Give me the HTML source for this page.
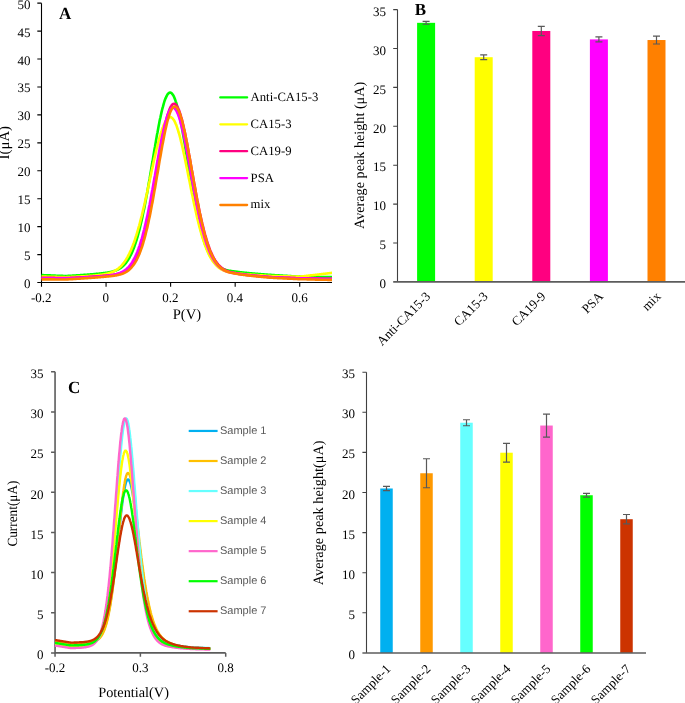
<!DOCTYPE html>
<html><head><meta charset="utf-8"><style>
html,body{margin:0;padding:0;background:#fff;}
body{width:685px;height:703px;overflow:hidden;}
svg{display:block;text-rendering:geometricPrecision;will-change:transform;}
text{font-family:'Liberation Serif', serif;fill:#000;}
</style></head><body>
<svg width="685" height="703" viewBox="0 0 685 703">
<rect width="685" height="703" fill="#fff"/>
<path d="M41.50 3.15V282.55H332.00" fill="none" stroke="#000" stroke-width="1.1"/>
<path d="M37.30 282.55H41.50M37.30 254.61H41.50M37.30 226.67H41.50M37.30 198.73H41.50M37.30 170.79H41.50M37.30 142.85H41.50M37.30 114.91H41.50M37.30 86.97H41.50M37.30 59.03H41.50M37.30 31.09H41.50M37.30 3.15H41.50M41.50 282.55V286.75M106.06 282.55V286.75M170.61 282.55V286.75M235.17 282.55V286.75M299.72 282.55V286.75" stroke="#000" stroke-width="1.1"/>
<polyline fill="none" stroke="#00ff00" stroke-width="2.6" stroke-linejoin="round" points="41.5,275.1 41.9,275.1 42.3,275.1 42.7,275.1 43.2,275.1 43.6,275.2 44.0,275.2 44.4,275.2 44.8,275.2 45.2,275.2 45.7,275.2 46.1,275.3 46.5,275.3 46.9,275.3 47.3,275.3 47.7,275.3 48.1,275.3 48.6,275.4 49.0,275.4 49.4,275.4 49.8,275.4 50.2,275.4 50.6,275.4 51.1,275.5 51.5,275.5 51.9,275.5 52.3,275.5 52.7,275.5 53.1,275.6 53.6,275.6 54.0,275.6 54.4,275.6 54.8,275.6 55.2,275.6 55.6,275.7 56.0,275.7 56.5,275.7 56.9,275.7 57.3,275.7 57.7,275.7 58.1,275.7 58.5,275.8 59.0,275.8 59.4,275.8 59.8,275.8 60.2,275.8 60.6,275.8 61.0,275.9 61.4,275.9 61.9,275.9 62.3,275.9 62.7,275.9 63.1,275.9 63.5,276.0 63.9,276.0 64.4,276.0 64.8,276.0 65.2,276.0 65.6,276.0 66.0,276.0 66.4,276.0 66.9,276.0 67.3,276.0 67.7,275.9 68.1,275.9 68.5,275.9 68.9,275.9 69.3,275.8 69.8,275.8 70.2,275.8 70.6,275.8 71.0,275.7 71.4,275.7 71.8,275.7 72.3,275.7 72.7,275.6 73.1,275.6 73.5,275.6 73.9,275.6 74.3,275.5 74.7,275.5 75.2,275.5 75.6,275.5 76.0,275.4 76.4,275.4 76.8,275.4 77.2,275.3 77.7,275.3 78.1,275.3 78.5,275.3 78.9,275.2 79.3,275.2 79.7,275.2 80.2,275.2 80.6,275.1 81.0,275.1 81.4,275.1 81.8,275.0 82.2,275.0 82.6,275.0 83.1,275.0 83.5,274.9 83.9,274.9 84.3,274.9 84.7,274.8 85.1,274.8 85.6,274.8 86.0,274.8 86.4,274.7 86.8,274.7 87.2,274.7 87.6,274.6 88.0,274.6 88.5,274.6 88.9,274.5 89.3,274.5 89.7,274.5 90.1,274.4 90.5,274.4 91.0,274.4 91.4,274.3 91.8,274.3 92.2,274.3 92.6,274.2 93.0,274.2 93.4,274.2 93.9,274.1 94.3,274.1 94.7,274.1 95.1,274.0 95.5,274.0 95.9,273.9 96.4,273.9 96.8,273.9 97.2,273.8 97.6,273.8 98.0,273.7 98.4,273.7 98.9,273.7 99.3,273.6 99.7,273.6 100.1,273.5 100.5,273.5 100.9,273.4 101.3,273.4 101.8,273.3 102.2,273.3 102.6,273.2 103.0,273.2 103.4,273.1 103.8,273.1 104.3,273.0 104.7,273.0 105.1,272.9 105.5,272.8 105.9,272.8 106.3,272.7 106.7,272.7 107.2,272.6 107.6,272.5 108.0,272.5 108.4,272.4 108.8,272.3 109.2,272.3 109.7,272.2 110.1,272.1 110.5,272.0 110.9,271.9 111.3,271.8 111.7,271.7 112.2,271.6 112.6,271.5 113.0,271.4 113.4,271.3 113.8,271.2 114.2,271.0 114.6,270.9 115.1,270.8 115.5,270.6 115.9,270.5 116.3,270.3 116.7,270.1 117.1,269.9 117.6,269.7 118.0,269.5 118.4,269.3 118.8,269.1 119.2,268.8 119.6,268.6 120.0,268.3 120.5,268.0 120.9,267.8 121.3,267.5 121.7,267.1 122.1,266.8 122.5,266.4 123.0,266.1 123.4,265.7 123.8,265.3 124.2,264.9 124.6,264.4 125.0,264.0 125.4,263.5 125.9,263.0 126.3,262.4 126.7,261.9 127.1,261.3 127.5,260.7 127.9,260.1 128.4,259.4 128.8,258.7 129.2,258.0 129.6,257.3 130.0,256.5 130.4,255.7 130.9,254.9 131.3,254.0 131.7,253.1 132.1,252.2 132.5,251.2 132.9,250.2 133.3,249.2 133.8,248.1 134.2,247.0 134.6,245.9 135.0,244.7 135.4,243.5 135.8,242.2 136.3,240.9 136.7,239.6 137.1,238.2 137.5,236.8 137.9,235.3 138.3,233.8 138.7,232.3 139.2,230.7 139.6,229.1 140.0,227.4 140.4,225.7 140.8,224.0 141.2,222.2 141.7,220.3 142.1,218.5 142.5,216.6 142.9,214.6 143.3,212.6 143.7,210.6 144.2,208.6 144.6,206.5 145.0,204.3 145.4,202.2 145.8,200.0 146.2,197.7 146.6,195.5 147.1,193.2 147.5,190.9 147.9,188.5 148.3,186.1 148.7,183.8 149.1,181.4 149.6,178.9 150.0,176.5 150.4,174.0 150.8,171.6 151.2,169.1 151.6,166.6 152.0,164.1 152.5,161.6 152.9,159.1 153.3,156.6 153.7,154.1 154.1,151.7 154.5,149.2 155.0,146.7 155.4,144.3 155.8,141.9 156.2,139.5 156.6,137.1 157.0,134.8 157.5,132.5 157.9,130.2 158.3,128.0 158.7,125.8 159.1,123.7 159.5,121.6 159.9,119.5 160.4,117.5 160.8,115.6 161.2,113.7 161.6,111.9 162.0,110.2 162.4,108.5 162.9,106.9 163.3,105.4 163.7,103.9 164.1,102.5 164.5,101.2 164.9,100.0 165.3,98.9 165.8,97.9 166.2,96.9 166.6,96.1 167.0,95.3 167.4,94.6 167.8,94.0 168.3,93.5 168.7,93.2 169.1,92.9 169.5,92.7 169.9,92.6 170.3,92.6 170.7,92.7 171.2,92.9 171.6,93.2 172.0,93.6 172.4,94.1 172.8,94.7 173.2,95.3 173.7,96.1 174.1,97.0 174.5,98.0 174.9,99.0 175.3,100.2 175.7,101.4 176.2,102.7 176.6,104.1 177.0,105.6 177.4,107.1 177.8,108.7 178.2,110.4 178.6,112.2 179.1,114.0 179.5,115.9 179.9,117.8 180.3,119.9 180.7,121.9 181.1,124.0 181.6,126.2 182.0,128.4 182.4,130.6 182.8,132.9 183.2,135.2 183.6,137.6 184.0,139.9 184.5,142.4 184.9,144.8 185.3,147.2 185.7,149.7 186.1,152.2 186.5,154.6 187.0,157.1 187.4,159.6 187.8,162.1 188.2,164.6 188.6,167.1 189.0,169.6 189.5,172.1 189.9,174.6 190.3,177.0 190.7,179.5 191.1,181.9 191.5,184.3 191.9,186.7 192.4,189.0 192.8,191.4 193.2,193.7 193.6,196.0 194.0,198.2 194.4,200.4 194.9,202.6 195.3,204.8 195.7,206.9 196.1,209.0 196.5,211.0 196.9,213.0 197.3,215.0 197.8,216.9 198.2,218.8 198.6,220.7 199.0,222.5 199.4,224.2 199.8,226.0 200.3,227.7 200.7,229.3 201.1,230.9 201.5,232.5 201.9,234.0 202.3,235.5 202.8,236.9 203.2,238.3 203.6,239.6 204.0,241.0 204.4,242.2 204.8,243.5 205.2,244.7 205.7,245.8 206.1,246.9 206.5,248.0 206.9,249.1 207.3,250.1 207.7,251.0 208.2,252.0 208.6,252.9 209.0,253.8 209.4,254.6 209.8,255.4 210.2,256.2 210.6,256.9 211.1,257.6 211.5,258.3 211.9,259.0 212.3,259.6 212.7,260.2 213.1,260.8 213.6,261.3 214.0,261.9 214.4,262.4 214.8,262.9 215.2,263.3 215.6,263.8 216.0,264.2 216.5,264.6 216.9,265.0 217.3,265.3 217.7,265.7 218.1,266.0 218.5,266.3 219.0,266.6 219.4,266.9 219.8,267.2 220.2,267.5 220.6,267.7 221.0,267.9 221.5,268.2 221.9,268.4 222.3,268.6 222.7,268.8 223.1,268.9 223.5,269.1 223.9,269.3 224.4,269.4 224.8,269.6 225.2,269.7 225.6,269.8 226.0,270.0 226.4,270.1 226.9,270.2 227.3,270.3 227.7,270.4 228.1,270.5 228.5,270.6 228.9,270.7 229.3,270.7 229.8,270.8 230.2,270.9 230.6,270.9 231.0,271.0 231.4,271.1 231.8,271.1 232.3,271.2 232.7,271.2 233.1,271.3 233.5,271.3 233.9,271.4 234.3,271.4 234.8,271.5 235.2,271.5 235.6,271.6 236.0,271.6 236.4,271.7 236.8,271.8 237.2,271.8 237.7,271.9 238.1,271.9 238.5,272.0 238.9,272.0 239.3,272.1 239.7,272.2 240.2,272.2 240.6,272.3 241.0,272.3 241.4,272.4 241.8,272.4 242.2,272.4 242.6,272.5 243.1,272.5 243.5,272.6 243.9,272.6 244.3,272.7 244.7,272.7 245.1,272.8 245.6,272.8 246.0,272.8 246.4,272.9 246.8,272.9 247.2,273.0 247.6,273.0 248.1,273.0 248.5,273.1 248.9,273.1 249.3,273.2 249.7,273.2 250.1,273.2 250.5,273.3 251.0,273.3 251.4,273.4 251.8,273.4 252.2,273.4 252.6,273.5 253.0,273.5 253.5,273.5 253.9,273.6 254.3,273.6 254.7,273.6 255.1,273.7 255.5,273.7 255.9,273.8 256.4,273.8 256.8,273.8 257.2,273.9 257.6,273.9 258.0,273.9 258.4,274.0 258.9,274.0 259.3,274.0 259.7,274.1 260.1,274.1 260.5,274.1 260.9,274.2 261.3,274.2 261.8,274.2 262.2,274.3 262.6,274.3 263.0,274.3 263.4,274.4 263.8,274.4 264.3,274.4 264.7,274.5 265.1,274.5 265.5,274.5 265.9,274.6 266.3,274.6 266.8,274.6 267.2,274.6 267.6,274.7 268.0,274.7 268.4,274.7 268.8,274.8 269.2,274.8 269.7,274.8 270.1,274.9 270.5,274.9 270.9,274.9 271.3,274.9 271.7,275.0 272.2,275.0 272.6,275.0 273.0,275.1 273.4,275.1 273.8,275.1 274.2,275.1 274.6,275.2 275.1,275.2 275.5,275.2 275.9,275.2 276.3,275.3 276.7,275.3 277.1,275.3 277.6,275.3 278.0,275.4 278.4,275.4 278.8,275.4 279.2,275.4 279.6,275.5 280.1,275.5 280.5,275.5 280.9,275.5 281.3,275.6 281.7,275.6 282.1,275.6 282.5,275.6 283.0,275.7 283.4,275.7 283.8,275.7 284.2,275.7 284.6,275.8 285.0,275.8 285.5,275.8 285.9,275.8 286.3,275.9 286.7,275.9 287.1,275.9 287.5,275.9 287.9,276.0 288.4,276.0 288.8,276.0 289.2,276.0 289.6,276.1 290.0,276.1 290.4,276.1 290.9,276.1 291.3,276.2 291.7,276.2 292.1,276.2 292.5,276.2 292.9,276.2 293.3,276.3 293.8,276.3 294.2,276.3 294.6,276.3 295.0,276.4 295.4,276.4 295.8,276.4 296.3,276.4 296.7,276.5 297.1,276.5 297.5,276.5 297.9,276.5 298.3,276.6 298.8,276.6 299.2,276.6 299.6,276.6 300.0,276.6 300.4,276.7 300.8,276.7 301.2,276.7 301.7,276.7 302.1,276.7 302.5,276.7 302.9,276.7 303.3,276.7 303.7,276.7 304.2,276.7 304.6,276.7 305.0,276.7 305.4,276.7 305.8,276.7 306.2,276.8 306.6,276.8 307.1,276.8 307.5,276.8 307.9,276.8 308.3,276.8 308.7,276.8 309.1,276.8 309.6,276.8 310.0,276.8 310.4,276.8 310.8,276.8 311.2,276.8 311.6,276.8 312.1,276.8 312.5,276.9 312.9,276.9 313.3,276.9 313.7,276.9 314.1,276.9 314.5,276.9 315.0,276.9 315.4,276.9 315.8,276.9 316.2,276.9 316.6,276.9 317.0,276.9 317.5,276.9 317.9,276.9 318.3,276.9 318.7,276.9 319.1,277.0 319.5,277.0 319.9,277.0 320.4,277.0 320.8,277.0 321.2,277.0 321.6,277.0 322.0,277.0 322.4,277.0 322.9,277.0 323.3,277.0 323.7,277.0 324.1,277.0 324.5,277.0 324.9,277.0 325.4,277.0 325.8,277.0 326.2,277.1 326.6,277.1 327.0,277.1 327.4,277.1 327.8,277.1 328.3,277.1 328.7,277.1 329.1,277.1 329.5,277.1 329.9,277.1 330.3,277.1 330.8,277.1 331.2,277.1 331.6,277.1 332.0,277.1"/>
<polyline fill="none" stroke="#ffff00" stroke-width="2.6" stroke-linejoin="round" points="41.5,276.5 41.9,276.5 42.3,276.5 42.7,276.6 43.2,276.6 43.6,276.6 44.0,276.6 44.4,276.6 44.8,276.6 45.2,276.6 45.7,276.6 46.1,276.6 46.5,276.7 46.9,276.7 47.3,276.7 47.7,276.7 48.1,276.7 48.6,276.7 49.0,276.7 49.4,276.7 49.8,276.8 50.2,276.8 50.6,276.8 51.1,276.8 51.5,276.8 51.9,276.8 52.3,276.8 52.7,276.8 53.1,276.8 53.6,276.9 54.0,276.9 54.4,276.9 54.8,276.9 55.2,276.9 55.6,276.9 56.0,276.9 56.5,276.9 56.9,276.9 57.3,277.0 57.7,277.0 58.1,277.0 58.5,277.0 59.0,277.0 59.4,277.0 59.8,277.0 60.2,277.0 60.6,277.0 61.0,277.1 61.4,277.1 61.9,277.1 62.3,277.1 62.7,277.1 63.1,277.1 63.5,277.1 63.9,277.1 64.4,277.1 64.8,277.2 65.2,277.2 65.6,277.2 66.0,277.2 66.4,277.2 66.9,277.1 67.3,277.1 67.7,277.1 68.1,277.1 68.5,277.1 68.9,277.0 69.3,277.0 69.8,277.0 70.2,277.0 70.6,277.0 71.0,276.9 71.4,276.9 71.8,276.9 72.3,276.9 72.7,276.9 73.1,276.8 73.5,276.8 73.9,276.8 74.3,276.8 74.7,276.8 75.2,276.7 75.6,276.7 76.0,276.7 76.4,276.7 76.8,276.6 77.2,276.6 77.7,276.6 78.1,276.6 78.5,276.6 78.9,276.5 79.3,276.5 79.7,276.5 80.2,276.5 80.6,276.4 81.0,276.4 81.4,276.4 81.8,276.4 82.2,276.4 82.6,276.3 83.1,276.3 83.5,276.3 83.9,276.3 84.3,276.2 84.7,276.2 85.1,276.2 85.6,276.2 86.0,276.1 86.4,276.1 86.8,276.1 87.2,276.1 87.6,276.0 88.0,276.0 88.5,276.0 88.9,276.0 89.3,275.9 89.7,275.9 90.1,275.9 90.5,275.8 91.0,275.8 91.4,275.8 91.8,275.8 92.2,275.7 92.6,275.7 93.0,275.7 93.4,275.6 93.9,275.6 94.3,275.6 94.7,275.5 95.1,275.5 95.5,275.4 95.9,275.4 96.4,275.4 96.8,275.3 97.2,275.3 97.6,275.2 98.0,275.2 98.4,275.1 98.9,275.1 99.3,275.0 99.7,275.0 100.1,274.9 100.5,274.9 100.9,274.8 101.3,274.8 101.8,274.7 102.2,274.6 102.6,274.6 103.0,274.5 103.4,274.4 103.8,274.4 104.3,274.3 104.7,274.2 105.1,274.1 105.5,274.0 105.9,273.9 106.3,273.9 106.7,273.8 107.2,273.7 107.6,273.6 108.0,273.5 108.4,273.4 108.8,273.2 109.2,273.1 109.7,273.0 110.1,272.9 110.5,272.7 110.9,272.6 111.3,272.4 111.7,272.3 112.2,272.1 112.6,271.9 113.0,271.8 113.4,271.6 113.8,271.4 114.2,271.2 114.6,270.9 115.1,270.7 115.5,270.5 115.9,270.2 116.3,270.0 116.7,269.7 117.1,269.4 117.6,269.1 118.0,268.8 118.4,268.5 118.8,268.1 119.2,267.8 119.6,267.4 120.0,267.1 120.5,266.7 120.9,266.2 121.3,265.8 121.7,265.4 122.1,264.9 122.5,264.4 123.0,263.9 123.4,263.4 123.8,262.9 124.2,262.3 124.6,261.7 125.0,261.1 125.4,260.5 125.9,259.9 126.3,259.2 126.7,258.5 127.1,257.8 127.5,257.1 127.9,256.3 128.4,255.5 128.8,254.7 129.2,253.9 129.6,253.0 130.0,252.2 130.4,251.2 130.9,250.3 131.3,249.3 131.7,248.3 132.1,247.3 132.5,246.3 132.9,245.2 133.3,244.1 133.8,242.9 134.2,241.8 134.6,240.6 135.0,239.4 135.4,238.1 135.8,236.8 136.3,235.5 136.7,234.2 137.1,232.8 137.5,231.4 137.9,230.0 138.3,228.6 138.7,227.1 139.2,225.6 139.6,224.1 140.0,222.5 140.4,220.9 140.8,219.3 141.2,217.7 141.7,216.0 142.1,214.3 142.5,212.6 142.9,210.9 143.3,209.1 143.7,207.4 144.2,205.6 144.6,203.8 145.0,201.9 145.4,200.1 145.8,198.2 146.2,196.4 146.6,194.5 147.1,192.6 147.5,190.7 147.9,188.7 148.3,186.8 148.7,184.9 149.1,182.9 149.6,181.0 150.0,179.0 150.4,177.1 150.8,175.2 151.2,173.2 151.6,171.3 152.0,169.3 152.5,167.4 152.9,165.5 153.3,163.6 153.7,161.7 154.1,159.8 154.5,158.0 155.0,156.2 155.4,154.3 155.8,152.5 156.2,150.8 156.6,149.0 157.0,147.3 157.5,145.6 157.9,144.0 158.3,142.4 158.7,140.8 159.1,139.2 159.5,137.7 159.9,136.3 160.4,134.8 160.8,133.5 161.2,132.1 161.6,130.9 162.0,129.6 162.4,128.4 162.9,127.3 163.3,126.2 163.7,125.2 164.1,124.2 164.5,123.3 164.9,122.5 165.3,121.7 165.8,121.0 166.2,120.3 166.6,119.7 167.0,119.1 167.4,118.7 167.8,118.2 168.3,117.9 168.7,117.6 169.1,117.4 169.5,117.2 169.9,117.2 170.3,117.1 170.7,117.2 171.2,117.3 171.6,117.6 172.0,117.8 172.4,118.2 172.8,118.7 173.2,119.2 173.7,119.8 174.1,120.4 174.5,121.2 174.9,122.0 175.3,122.9 175.7,123.8 176.2,124.8 176.6,125.9 177.0,127.1 177.4,128.3 177.8,129.5 178.2,130.9 178.6,132.3 179.1,133.7 179.5,135.2 179.9,136.7 180.3,138.3 180.7,140.0 181.1,141.7 181.6,143.4 182.0,145.2 182.4,147.0 182.8,148.8 183.2,150.7 183.6,152.6 184.0,154.5 184.5,156.5 184.9,158.5 185.3,160.5 185.7,162.5 186.1,164.5 186.5,166.6 187.0,168.6 187.4,170.7 187.8,172.8 188.2,174.9 188.6,177.0 189.0,179.0 189.5,181.1 189.9,183.2 190.3,185.3 190.7,187.4 191.1,189.4 191.5,191.5 191.9,193.5 192.4,195.6 192.8,197.6 193.2,199.6 193.6,201.6 194.0,203.5 194.4,205.4 194.9,207.4 195.3,209.3 195.7,211.1 196.1,213.0 196.5,214.8 196.9,216.6 197.3,218.3 197.8,220.1 198.2,221.8 198.6,223.4 199.0,225.1 199.4,226.7 199.8,228.3 200.3,229.8 200.7,231.3 201.1,232.8 201.5,234.2 201.9,235.6 202.3,237.0 202.8,238.4 203.2,239.7 203.6,240.9 204.0,242.2 204.4,243.4 204.8,244.6 205.2,245.7 205.7,246.8 206.1,247.9 206.5,248.9 206.9,250.0 207.3,250.9 207.7,251.9 208.2,252.8 208.6,253.7 209.0,254.6 209.4,255.4 209.8,256.2 210.2,257.0 210.6,257.7 211.1,258.4 211.5,259.1 211.9,259.8 212.3,260.4 212.7,261.1 213.1,261.7 213.6,262.2 214.0,262.8 214.4,263.3 214.8,263.8 215.2,264.3 215.6,264.8 216.0,265.2 216.5,265.6 216.9,266.0 217.3,266.4 217.7,266.8 218.1,267.1 218.5,267.5 219.0,267.8 219.4,268.1 219.8,268.4 220.2,268.7 220.6,268.9 221.0,269.2 221.5,269.4 221.9,269.7 222.3,269.9 222.7,270.1 223.1,270.3 223.5,270.5 223.9,270.7 224.4,270.8 224.8,271.0 225.2,271.1 225.6,271.3 226.0,271.4 226.4,271.5 226.9,271.7 227.3,271.8 227.7,271.9 228.1,272.0 228.5,272.1 228.9,272.2 229.3,272.3 229.8,272.3 230.2,272.4 230.6,272.5 231.0,272.5 231.4,272.6 231.8,272.7 232.3,272.7 232.7,272.8 233.1,272.8 233.5,272.9 233.9,272.9 234.3,273.0 234.8,273.0 235.2,273.0 235.6,273.1 236.0,273.2 236.4,273.2 236.8,273.3 237.2,273.3 237.7,273.4 238.1,273.4 238.5,273.5 238.9,273.5 239.3,273.6 239.7,273.6 240.2,273.7 240.6,273.7 241.0,273.8 241.4,273.8 241.8,273.9 242.2,273.9 242.6,273.9 243.1,274.0 243.5,274.0 243.9,274.1 244.3,274.1 244.7,274.1 245.1,274.2 245.6,274.2 246.0,274.2 246.4,274.3 246.8,274.3 247.2,274.3 247.6,274.4 248.1,274.4 248.5,274.4 248.9,274.5 249.3,274.5 249.7,274.5 250.1,274.6 250.5,274.6 251.0,274.6 251.4,274.7 251.8,274.7 252.2,274.7 252.6,274.8 253.0,274.8 253.5,274.8 253.9,274.8 254.3,274.9 254.7,274.9 255.1,274.9 255.5,275.0 255.9,275.0 256.4,275.0 256.8,275.0 257.2,275.1 257.6,275.1 258.0,275.1 258.4,275.2 258.9,275.2 259.3,275.2 259.7,275.2 260.1,275.3 260.5,275.3 260.9,275.3 261.3,275.4 261.8,275.4 262.2,275.4 262.6,275.4 263.0,275.5 263.4,275.5 263.8,275.5 264.3,275.6 264.7,275.6 265.1,275.6 265.5,275.6 265.9,275.7 266.3,275.7 266.8,275.7 267.2,275.7 267.6,275.8 268.0,275.8 268.4,275.8 268.8,275.9 269.2,275.9 269.7,275.9 270.1,275.9 270.5,275.9 270.9,276.0 271.3,276.0 271.7,276.0 272.2,276.0 272.6,276.0 273.0,276.0 273.4,276.0 273.8,276.0 274.2,276.0 274.6,276.1 275.1,276.1 275.5,276.1 275.9,276.1 276.3,276.1 276.7,276.1 277.1,276.1 277.6,276.1 278.0,276.1 278.4,276.2 278.8,276.2 279.2,276.2 279.6,276.2 280.1,276.2 280.5,276.2 280.9,276.2 281.3,276.2 281.7,276.2 282.1,276.3 282.5,276.3 283.0,276.3 283.4,276.3 283.8,276.3 284.2,276.3 284.6,276.3 285.0,276.3 285.5,276.3 285.9,276.3 286.3,276.4 286.7,276.4 287.1,276.4 287.5,276.4 287.9,276.4 288.4,276.4 288.8,276.4 289.2,276.4 289.6,276.4 290.0,276.4 290.4,276.5 290.9,276.5 291.3,276.5 291.7,276.5 292.1,276.5 292.5,276.5 292.9,276.5 293.3,276.5 293.8,276.5 294.2,276.5 294.6,276.6 295.0,276.6 295.4,276.6 295.8,276.6 296.3,276.6 296.7,276.6 297.1,276.6 297.5,276.6 297.9,276.6 298.3,276.6 298.8,276.6 299.2,276.7 299.6,276.7 300.0,276.7 300.4,276.6 300.8,276.6 301.2,276.5 301.7,276.5 302.1,276.4 302.5,276.4 302.9,276.3 303.3,276.3 303.7,276.2 304.2,276.2 304.6,276.1 305.0,276.1 305.4,276.0 305.8,276.0 306.2,275.9 306.6,275.9 307.1,275.8 307.5,275.8 307.9,275.7 308.3,275.7 308.7,275.6 309.1,275.6 309.6,275.5 310.0,275.5 310.4,275.4 310.8,275.4 311.2,275.3 311.6,275.3 312.1,275.2 312.5,275.2 312.9,275.2 313.3,275.1 313.7,275.1 314.1,275.0 314.5,275.0 315.0,274.9 315.4,274.9 315.8,274.8 316.2,274.8 316.6,274.7 317.0,274.7 317.5,274.6 317.9,274.6 318.3,274.5 318.7,274.5 319.1,274.4 319.5,274.4 319.9,274.3 320.4,274.3 320.8,274.2 321.2,274.2 321.6,274.1 322.0,274.1 322.4,274.0 322.9,274.0 323.3,273.9 323.7,273.9 324.1,273.8 324.5,273.8 324.9,273.7 325.4,273.7 325.8,273.6 326.2,273.6 326.6,273.5 327.0,273.5 327.4,273.4 327.8,273.4 328.3,273.3 328.7,273.3 329.1,273.2 329.5,273.2 329.9,273.1 330.3,273.1 330.8,273.0 331.2,273.0 331.6,272.9 332.0,272.9"/>
<polyline fill="none" stroke="#ff0080" stroke-width="2.6" stroke-linejoin="round" points="41.5,277.7 41.9,277.7 42.3,277.7 42.7,277.7 43.2,277.7 43.6,277.7 44.0,277.7 44.4,277.7 44.8,277.7 45.2,277.8 45.7,277.8 46.1,277.8 46.5,277.8 46.9,277.8 47.3,277.8 47.7,277.8 48.1,277.8 48.6,277.8 49.0,277.8 49.4,277.8 49.8,277.8 50.2,277.9 50.6,277.9 51.1,277.9 51.5,277.9 51.9,277.9 52.3,277.9 52.7,277.9 53.1,277.9 53.6,277.9 54.0,277.9 54.4,277.9 54.8,277.9 55.2,278.0 55.6,278.0 56.0,278.0 56.5,278.0 56.9,278.0 57.3,278.0 57.7,278.0 58.1,278.0 58.5,278.0 59.0,278.0 59.4,278.0 59.8,278.0 60.2,278.0 60.6,278.1 61.0,278.1 61.4,278.1 61.9,278.1 62.3,278.1 62.7,278.1 63.1,278.1 63.5,278.1 63.9,278.1 64.4,278.1 64.8,278.1 65.2,278.1 65.6,278.1 66.0,278.1 66.4,278.1 66.9,278.1 67.3,278.1 67.7,278.1 68.1,278.0 68.5,278.0 68.9,278.0 69.3,278.0 69.8,278.0 70.2,277.9 70.6,277.9 71.0,277.9 71.4,277.9 71.8,277.9 72.3,277.8 72.7,277.8 73.1,277.8 73.5,277.8 73.9,277.8 74.3,277.7 74.7,277.7 75.2,277.7 75.6,277.7 76.0,277.6 76.4,277.6 76.8,277.6 77.2,277.6 77.7,277.6 78.1,277.5 78.5,277.5 78.9,277.5 79.3,277.5 79.7,277.4 80.2,277.4 80.6,277.4 81.0,277.4 81.4,277.3 81.8,277.3 82.2,277.3 82.6,277.3 83.1,277.3 83.5,277.2 83.9,277.2 84.3,277.2 84.7,277.2 85.1,277.1 85.6,277.1 86.0,277.1 86.4,277.1 86.8,277.0 87.2,277.0 87.6,277.0 88.0,277.0 88.5,276.9 88.9,276.9 89.3,276.9 89.7,276.9 90.1,276.8 90.5,276.8 91.0,276.8 91.4,276.8 91.8,276.7 92.2,276.7 92.6,276.7 93.0,276.6 93.4,276.6 93.9,276.6 94.3,276.6 94.7,276.5 95.1,276.5 95.5,276.5 95.9,276.4 96.4,276.4 96.8,276.4 97.2,276.4 97.6,276.3 98.0,276.3 98.4,276.3 98.9,276.2 99.3,276.2 99.7,276.2 100.1,276.1 100.5,276.1 100.9,276.1 101.3,276.0 101.8,276.0 102.2,276.0 102.6,275.9 103.0,275.9 103.4,275.9 103.8,275.8 104.3,275.8 104.7,275.8 105.1,275.7 105.5,275.7 105.9,275.6 106.3,275.6 106.7,275.6 107.2,275.5 107.6,275.5 108.0,275.4 108.4,275.4 108.8,275.4 109.2,275.3 109.7,275.3 110.1,275.2 110.5,275.2 110.9,275.1 111.3,275.1 111.7,275.0 112.2,275.0 112.6,274.9 113.0,274.8 113.4,274.8 113.8,274.7 114.2,274.6 114.6,274.6 115.1,274.5 115.5,274.4 115.9,274.3 116.3,274.2 116.7,274.1 117.1,274.0 117.6,273.9 118.0,273.8 118.4,273.7 118.8,273.6 119.2,273.5 119.6,273.4 120.0,273.2 120.5,273.1 120.9,272.9 121.3,272.8 121.7,272.6 122.1,272.4 122.5,272.2 123.0,272.0 123.4,271.8 123.8,271.6 124.2,271.4 124.6,271.1 125.0,270.9 125.4,270.6 125.9,270.4 126.3,270.1 126.7,269.8 127.1,269.4 127.5,269.1 127.9,268.7 128.4,268.4 128.8,268.0 129.2,267.6 129.6,267.1 130.0,266.7 130.4,266.2 130.9,265.7 131.3,265.2 131.7,264.7 132.1,264.1 132.5,263.6 132.9,262.9 133.3,262.3 133.8,261.6 134.2,261.0 134.6,260.2 135.0,259.5 135.4,258.7 135.8,257.9 136.3,257.0 136.7,256.2 137.1,255.3 137.5,254.3 137.9,253.3 138.3,252.3 138.7,251.3 139.2,250.2 139.6,249.0 140.0,247.9 140.4,246.7 140.8,245.4 141.2,244.1 141.7,242.8 142.1,241.5 142.5,240.1 142.9,238.6 143.3,237.1 143.7,235.6 144.2,234.0 144.6,232.4 145.0,230.8 145.4,229.1 145.8,227.3 146.2,225.6 146.6,223.7 147.1,221.9 147.5,220.0 147.9,218.1 148.3,216.1 148.7,214.1 149.1,212.0 149.6,210.0 150.0,207.9 150.4,205.7 150.8,203.5 151.2,201.3 151.6,199.1 152.0,196.8 152.5,194.5 152.9,192.2 153.3,189.9 153.7,187.5 154.1,185.1 154.5,182.8 155.0,180.4 155.4,177.9 155.8,175.5 156.2,173.1 156.6,170.7 157.0,168.2 157.5,165.8 157.9,163.4 158.3,160.9 158.7,158.5 159.1,156.1 159.5,153.7 159.9,151.4 160.4,149.0 160.8,146.7 161.2,144.4 161.6,142.2 162.0,140.0 162.4,137.8 162.9,135.6 163.3,133.5 163.7,131.5 164.1,129.5 164.5,127.5 164.9,125.6 165.3,123.8 165.8,122.0 166.2,120.3 166.6,118.7 167.0,117.2 167.4,115.7 167.8,114.3 168.3,112.9 168.7,111.7 169.1,110.5 169.5,109.4 169.9,108.5 170.3,107.6 170.7,106.7 171.2,106.0 171.6,105.4 172.0,104.9 172.4,104.5 172.8,104.1 173.2,103.9 173.7,103.8 174.1,103.7 174.5,103.8 174.9,103.9 175.3,104.2 175.7,104.5 176.2,105.0 176.6,105.5 177.0,106.1 177.4,106.8 177.8,107.6 178.2,108.4 178.6,109.4 179.1,110.4 179.5,111.6 179.9,112.8 180.3,114.0 180.7,115.4 181.1,116.8 181.6,118.3 182.0,119.9 182.4,121.5 182.8,123.2 183.2,125.0 183.6,126.8 184.0,128.6 184.5,130.6 184.9,132.5 185.3,134.5 185.7,136.6 186.1,138.7 186.5,140.8 187.0,143.0 187.4,145.2 187.8,147.4 188.2,149.7 188.6,151.9 189.0,154.2 189.5,156.5 189.9,158.9 190.3,161.2 190.7,163.6 191.1,165.9 191.5,168.3 191.9,170.6 192.4,173.0 192.8,175.3 193.2,177.7 193.6,180.0 194.0,182.3 194.4,184.6 194.9,186.9 195.3,189.2 195.7,191.5 196.1,193.7 196.5,195.9 196.9,198.1 197.3,200.3 197.8,202.4 198.2,204.6 198.6,206.6 199.0,208.7 199.4,210.7 199.8,212.7 200.3,214.7 200.7,216.6 201.1,218.5 201.5,220.3 201.9,222.1 202.3,223.9 202.8,225.6 203.2,227.3 203.6,229.0 204.0,230.6 204.4,232.2 204.8,233.7 205.2,235.2 205.7,236.7 206.1,238.1 206.5,239.5 206.9,240.9 207.3,242.2 207.7,243.5 208.2,244.7 208.6,245.9 209.0,247.0 209.4,248.2 209.8,249.2 210.2,250.3 210.6,251.3 211.1,252.3 211.5,253.2 211.9,254.2 212.3,255.0 212.7,255.9 213.1,256.7 213.6,257.5 214.0,258.3 214.4,259.0 214.8,259.7 215.2,260.4 215.6,261.0 216.0,261.6 216.5,262.2 216.9,262.8 217.3,263.3 217.7,263.9 218.1,264.4 218.5,264.8 219.0,265.3 219.4,265.7 219.8,266.1 220.2,266.5 220.6,266.9 221.0,267.3 221.5,267.6 221.9,268.0 222.3,268.3 222.7,268.6 223.1,268.9 223.5,269.1 223.9,269.4 224.4,269.6 224.8,269.9 225.2,270.1 225.6,270.3 226.0,270.5 226.4,270.7 226.9,270.9 227.3,271.1 227.7,271.2 228.1,271.4 228.5,271.5 228.9,271.7 229.3,271.8 229.8,271.9 230.2,272.0 230.6,272.1 231.0,272.2 231.4,272.4 231.8,272.4 232.3,272.5 232.7,272.6 233.1,272.7 233.5,272.8 233.9,272.9 234.3,272.9 234.8,273.0 235.2,273.1 235.6,273.2 236.0,273.2 236.4,273.3 236.8,273.4 237.2,273.5 237.7,273.6 238.1,273.6 238.5,273.7 238.9,273.8 239.3,273.9 239.7,273.9 240.2,274.0 240.6,274.0 241.0,274.1 241.4,274.2 241.8,274.2 242.2,274.3 242.6,274.3 243.1,274.4 243.5,274.5 243.9,274.5 244.3,274.6 244.7,274.6 245.1,274.7 245.6,274.7 246.0,274.8 246.4,274.8 246.8,274.9 247.2,274.9 247.6,275.0 248.1,275.0 248.5,275.1 248.9,275.1 249.3,275.1 249.7,275.2 250.1,275.2 250.5,275.3 251.0,275.3 251.4,275.4 251.8,275.4 252.2,275.4 252.6,275.5 253.0,275.5 253.5,275.6 253.9,275.6 254.3,275.7 254.7,275.7 255.1,275.7 255.5,275.8 255.9,275.8 256.4,275.9 256.8,275.9 257.2,275.9 257.6,276.0 258.0,276.0 258.4,276.0 258.9,276.1 259.3,276.1 259.7,276.2 260.1,276.2 260.5,276.2 260.9,276.3 261.3,276.3 261.8,276.4 262.2,276.4 262.6,276.4 263.0,276.5 263.4,276.5 263.8,276.5 264.3,276.6 264.7,276.6 265.1,276.6 265.5,276.7 265.9,276.7 266.3,276.8 266.8,276.8 267.2,276.8 267.6,276.9 268.0,276.9 268.4,276.9 268.8,277.0 269.2,277.0 269.7,277.0 270.1,277.1 270.5,277.1 270.9,277.1 271.3,277.1 271.7,277.1 272.2,277.2 272.6,277.2 273.0,277.2 273.4,277.2 273.8,277.2 274.2,277.3 274.6,277.3 275.1,277.3 275.5,277.3 275.9,277.3 276.3,277.4 276.7,277.4 277.1,277.4 277.6,277.4 278.0,277.4 278.4,277.4 278.8,277.5 279.2,277.5 279.6,277.5 280.1,277.5 280.5,277.5 280.9,277.6 281.3,277.6 281.7,277.6 282.1,277.6 282.5,277.6 283.0,277.6 283.4,277.7 283.8,277.7 284.2,277.7 284.6,277.7 285.0,277.7 285.5,277.7 285.9,277.8 286.3,277.8 286.7,277.8 287.1,277.8 287.5,277.8 287.9,277.8 288.4,277.9 288.8,277.9 289.2,277.9 289.6,277.9 290.0,277.9 290.4,277.9 290.9,278.0 291.3,278.0 291.7,278.0 292.1,278.0 292.5,278.0 292.9,278.0 293.3,278.1 293.8,278.1 294.2,278.1 294.6,278.1 295.0,278.1 295.4,278.1 295.8,278.2 296.3,278.2 296.7,278.2 297.1,278.2 297.5,278.2 297.9,278.2 298.3,278.3 298.8,278.3 299.2,278.3 299.6,278.3 300.0,278.3 300.4,278.3 300.8,278.3 301.2,278.3 301.7,278.3 302.1,278.4 302.5,278.4 302.9,278.4 303.3,278.4 303.7,278.4 304.2,278.4 304.6,278.4 305.0,278.4 305.4,278.4 305.8,278.4 306.2,278.4 306.6,278.4 307.1,278.4 307.5,278.4 307.9,278.4 308.3,278.5 308.7,278.5 309.1,278.5 309.6,278.5 310.0,278.5 310.4,278.5 310.8,278.5 311.2,278.5 311.6,278.5 312.1,278.5 312.5,278.5 312.9,278.5 313.3,278.5 313.7,278.5 314.1,278.5 314.5,278.6 315.0,278.6 315.4,278.6 315.8,278.6 316.2,278.6 316.6,278.6 317.0,278.6 317.5,278.6 317.9,278.6 318.3,278.6 318.7,278.6 319.1,278.6 319.5,278.6 319.9,278.6 320.4,278.6 320.8,278.6 321.2,278.7 321.6,278.7 322.0,278.7 322.4,278.7 322.9,278.7 323.3,278.7 323.7,278.7 324.1,278.7 324.5,278.7 324.9,278.7 325.4,278.7 325.8,278.7 326.2,278.7 326.6,278.7 327.0,278.7 327.4,278.7 327.8,278.8 328.3,278.8 328.7,278.8 329.1,278.8 329.5,278.8 329.9,278.8 330.3,278.8 330.8,278.8 331.2,278.8 331.6,278.8 332.0,278.8"/>
<polyline fill="none" stroke="#ff00ff" stroke-width="2.6" stroke-linejoin="round" points="41.5,278.2 41.9,278.2 42.3,278.2 42.7,278.2 43.2,278.2 43.6,278.2 44.0,278.2 44.4,278.3 44.8,278.3 45.2,278.3 45.7,278.3 46.1,278.3 46.5,278.3 46.9,278.3 47.3,278.3 47.7,278.3 48.1,278.3 48.6,278.3 49.0,278.3 49.4,278.3 49.8,278.3 50.2,278.3 50.6,278.3 51.1,278.3 51.5,278.3 51.9,278.3 52.3,278.3 52.7,278.3 53.1,278.3 53.6,278.3 54.0,278.3 54.4,278.3 54.8,278.3 55.2,278.3 55.6,278.4 56.0,278.4 56.5,278.4 56.9,278.4 57.3,278.4 57.7,278.4 58.1,278.4 58.5,278.4 59.0,278.4 59.4,278.4 59.8,278.4 60.2,278.4 60.6,278.4 61.0,278.4 61.4,278.4 61.9,278.4 62.3,278.4 62.7,278.4 63.1,278.4 63.5,278.4 63.9,278.4 64.4,278.4 64.8,278.4 65.2,278.4 65.6,278.4 66.0,278.4 66.4,278.4 66.9,278.4 67.3,278.4 67.7,278.3 68.1,278.3 68.5,278.3 68.9,278.3 69.3,278.2 69.8,278.2 70.2,278.2 70.6,278.2 71.0,278.2 71.4,278.1 71.8,278.1 72.3,278.1 72.7,278.1 73.1,278.1 73.5,278.0 73.9,278.0 74.3,278.0 74.7,278.0 75.2,277.9 75.6,277.9 76.0,277.9 76.4,277.9 76.8,277.9 77.2,277.8 77.7,277.8 78.1,277.8 78.5,277.8 78.9,277.7 79.3,277.7 79.7,277.7 80.2,277.7 80.6,277.7 81.0,277.6 81.4,277.6 81.8,277.6 82.2,277.6 82.6,277.5 83.1,277.5 83.5,277.5 83.9,277.5 84.3,277.4 84.7,277.4 85.1,277.4 85.6,277.4 86.0,277.3 86.4,277.3 86.8,277.3 87.2,277.3 87.6,277.2 88.0,277.2 88.5,277.2 88.9,277.2 89.3,277.1 89.7,277.1 90.1,277.1 90.5,277.1 91.0,277.0 91.4,277.0 91.8,277.0 92.2,276.9 92.6,276.9 93.0,276.9 93.4,276.9 93.9,276.8 94.3,276.8 94.7,276.8 95.1,276.7 95.5,276.7 95.9,276.7 96.4,276.7 96.8,276.6 97.2,276.6 97.6,276.6 98.0,276.5 98.4,276.5 98.9,276.5 99.3,276.4 99.7,276.4 100.1,276.4 100.5,276.3 100.9,276.3 101.3,276.3 101.8,276.2 102.2,276.2 102.6,276.2 103.0,276.1 103.4,276.1 103.8,276.0 104.3,276.0 104.7,276.0 105.1,275.9 105.5,275.9 105.9,275.8 106.3,275.8 106.7,275.7 107.2,275.7 107.6,275.6 108.0,275.6 108.4,275.6 108.8,275.5 109.2,275.5 109.7,275.4 110.1,275.3 110.5,275.3 110.9,275.2 111.3,275.2 111.7,275.1 112.2,275.0 112.6,275.0 113.0,274.9 113.4,274.8 113.8,274.7 114.2,274.6 114.6,274.6 115.1,274.5 115.5,274.4 115.9,274.3 116.3,274.2 116.7,274.0 117.1,273.9 117.6,273.8 118.0,273.7 118.4,273.5 118.8,273.4 119.2,273.3 119.6,273.1 120.0,272.9 120.5,272.8 120.9,272.6 121.3,272.4 121.7,272.2 122.1,272.0 122.5,271.7 123.0,271.5 123.4,271.3 123.8,271.0 124.2,270.7 124.6,270.5 125.0,270.2 125.4,269.9 125.9,269.5 126.3,269.2 126.7,268.8 127.1,268.4 127.5,268.1 127.9,267.6 128.4,267.2 128.8,266.8 129.2,266.3 129.6,265.8 130.0,265.3 130.4,264.7 130.9,264.2 131.3,263.6 131.7,263.0 132.1,262.3 132.5,261.7 132.9,261.0 133.3,260.3 133.8,259.5 134.2,258.7 134.6,257.9 135.0,257.1 135.4,256.2 135.8,255.3 136.3,254.4 136.7,253.4 137.1,252.4 137.5,251.4 137.9,250.3 138.3,249.2 138.7,248.0 139.2,246.8 139.6,245.6 140.0,244.3 140.4,243.0 140.8,241.7 141.2,240.3 141.7,238.9 142.1,237.5 142.5,236.0 142.9,234.4 143.3,232.8 143.7,231.2 144.2,229.6 144.6,227.9 145.0,226.1 145.4,224.4 145.8,222.6 146.2,220.7 146.6,218.8 147.1,216.9 147.5,215.0 147.9,213.0 148.3,210.9 148.7,208.9 149.1,206.8 149.6,204.7 150.0,202.5 150.4,200.4 150.8,198.2 151.2,196.0 151.6,193.7 152.0,191.4 152.5,189.2 152.9,186.9 153.3,184.6 153.7,182.2 154.1,179.9 154.5,177.5 155.0,175.2 155.4,172.8 155.8,170.5 156.2,168.1 156.6,165.8 157.0,163.4 157.5,161.1 157.9,158.8 158.3,156.5 158.7,154.2 159.1,151.9 159.5,149.7 159.9,147.5 160.4,145.3 160.8,143.2 161.2,141.0 161.6,139.0 162.0,136.9 162.4,134.9 162.9,133.0 163.3,131.1 163.7,129.3 164.1,127.5 164.5,125.8 164.9,124.1 165.3,122.6 165.8,121.0 166.2,119.6 166.6,118.2 167.0,116.9 167.4,115.7 167.8,114.5 168.3,113.5 168.7,112.5 169.1,111.6 169.5,110.8 169.9,110.1 170.3,109.5 170.7,108.9 171.2,108.5 171.6,108.1 172.0,107.9 172.4,107.7 172.8,107.6 173.2,107.7 173.7,107.8 174.1,108.0 174.5,108.3 174.9,108.7 175.3,109.2 175.7,109.7 176.2,110.4 176.6,111.1 177.0,111.9 177.4,112.9 177.8,113.8 178.2,114.9 178.6,116.1 179.1,117.3 179.5,118.6 179.9,119.9 180.3,121.4 180.7,122.9 181.1,124.5 181.6,126.1 182.0,127.8 182.4,129.5 182.8,131.3 183.2,133.2 183.6,135.1 184.0,137.0 184.5,139.0 184.9,141.1 185.3,143.1 185.7,145.3 186.1,147.4 186.5,149.6 187.0,151.8 187.4,154.0 187.8,156.2 188.2,158.5 188.6,160.7 189.0,163.0 189.5,165.3 189.9,167.6 190.3,169.9 190.7,172.2 191.1,174.5 191.5,176.8 191.9,179.1 192.4,181.4 192.8,183.7 193.2,185.9 193.6,188.2 194.0,190.4 194.4,192.6 194.9,194.8 195.3,197.0 195.7,199.2 196.1,201.3 196.5,203.4 196.9,205.5 197.3,207.5 197.8,209.5 198.2,211.5 198.6,213.5 199.0,215.4 199.4,217.3 199.8,219.1 200.3,221.0 200.7,222.7 201.1,224.5 201.5,226.2 201.9,227.9 202.3,229.5 202.8,231.1 203.2,232.7 203.6,234.2 204.0,235.7 204.4,237.1 204.8,238.5 205.2,239.9 205.7,241.2 206.1,242.5 206.5,243.8 206.9,245.0 207.3,246.2 207.7,247.3 208.2,248.4 208.6,249.5 209.0,250.5 209.4,251.5 209.8,252.5 210.2,253.4 210.6,254.3 211.1,255.2 211.5,256.1 211.9,256.9 212.3,257.7 212.7,258.4 213.1,259.1 213.6,259.8 214.0,260.5 214.4,261.1 214.8,261.7 215.2,262.3 215.6,262.9 216.0,263.4 216.5,264.0 216.9,264.5 217.3,264.9 217.7,265.4 218.1,265.8 218.5,266.2 219.0,266.6 219.4,267.0 219.8,267.4 220.2,267.7 220.6,268.0 221.0,268.4 221.5,268.7 221.9,268.9 222.3,269.2 222.7,269.5 223.1,269.7 223.5,269.9 223.9,270.2 224.4,270.4 224.8,270.6 225.2,270.8 225.6,270.9 226.0,271.1 226.4,271.3 226.9,271.4 227.3,271.6 227.7,271.7 228.1,271.8 228.5,272.0 228.9,272.1 229.3,272.2 229.8,272.3 230.2,272.4 230.6,272.5 231.0,272.6 231.4,272.7 231.8,272.8 232.3,272.8 232.7,272.9 233.1,273.0 233.5,273.0 233.9,273.1 234.3,273.2 234.8,273.2 235.2,273.3 235.6,273.4 236.0,273.4 236.4,273.5 236.8,273.6 237.2,273.7 237.7,273.7 238.1,273.8 238.5,273.9 238.9,273.9 239.3,274.0 239.7,274.1 240.2,274.1 240.6,274.2 241.0,274.2 241.4,274.3 241.8,274.4 242.2,274.4 242.6,274.5 243.1,274.5 243.5,274.6 243.9,274.6 244.3,274.7 244.7,274.7 245.1,274.8 245.6,274.8 246.0,274.9 246.4,274.9 246.8,275.0 247.2,275.0 247.6,275.0 248.1,275.1 248.5,275.1 248.9,275.2 249.3,275.2 249.7,275.3 250.1,275.3 250.5,275.4 251.0,275.4 251.4,275.4 251.8,275.5 252.2,275.5 252.6,275.6 253.0,275.6 253.5,275.6 253.9,275.7 254.3,275.7 254.7,275.8 255.1,275.8 255.5,275.8 255.9,275.9 256.4,275.9 256.8,276.0 257.2,276.0 257.6,276.0 258.0,276.1 258.4,276.1 258.9,276.1 259.3,276.2 259.7,276.2 260.1,276.3 260.5,276.3 260.9,276.3 261.3,276.4 261.8,276.4 262.2,276.4 262.6,276.5 263.0,276.5 263.4,276.6 263.8,276.6 264.3,276.6 264.7,276.7 265.1,276.7 265.5,276.7 265.9,276.8 266.3,276.8 266.8,276.8 267.2,276.9 267.6,276.9 268.0,276.9 268.4,277.0 268.8,277.0 269.2,277.0 269.7,277.1 270.1,277.1 270.5,277.1 270.9,277.2 271.3,277.2 271.7,277.2 272.2,277.2 272.6,277.2 273.0,277.2 273.4,277.3 273.8,277.3 274.2,277.3 274.6,277.3 275.1,277.3 275.5,277.4 275.9,277.4 276.3,277.4 276.7,277.4 277.1,277.4 277.6,277.4 278.0,277.5 278.4,277.5 278.8,277.5 279.2,277.5 279.6,277.5 280.1,277.6 280.5,277.6 280.9,277.6 281.3,277.6 281.7,277.6 282.1,277.6 282.5,277.7 283.0,277.7 283.4,277.7 283.8,277.7 284.2,277.7 284.6,277.7 285.0,277.8 285.5,277.8 285.9,277.8 286.3,277.8 286.7,277.8 287.1,277.8 287.5,277.9 287.9,277.9 288.4,277.9 288.8,277.9 289.2,277.9 289.6,277.9 290.0,278.0 290.4,278.0 290.9,278.0 291.3,278.0 291.7,278.0 292.1,278.0 292.5,278.1 292.9,278.1 293.3,278.1 293.8,278.1 294.2,278.1 294.6,278.1 295.0,278.2 295.4,278.2 295.8,278.2 296.3,278.2 296.7,278.2 297.1,278.2 297.5,278.2 297.9,278.3 298.3,278.3 298.8,278.3 299.2,278.3 299.6,278.3 300.0,278.3 300.4,278.3 300.8,278.4 301.2,278.4 301.7,278.4 302.1,278.4 302.5,278.4 302.9,278.4 303.3,278.4 303.7,278.4 304.2,278.4 304.6,278.4 305.0,278.4 305.4,278.4 305.8,278.4 306.2,278.4 306.6,278.4 307.1,278.5 307.5,278.5 307.9,278.5 308.3,278.5 308.7,278.5 309.1,278.5 309.6,278.5 310.0,278.5 310.4,278.5 310.8,278.5 311.2,278.5 311.6,278.5 312.1,278.5 312.5,278.5 312.9,278.5 313.3,278.6 313.7,278.6 314.1,278.6 314.5,278.6 315.0,278.6 315.4,278.6 315.8,278.6 316.2,278.6 316.6,278.6 317.0,278.6 317.5,278.6 317.9,278.6 318.3,278.6 318.7,278.6 319.1,278.6 319.5,278.6 319.9,278.7 320.4,278.7 320.8,278.7 321.2,278.7 321.6,278.7 322.0,278.7 322.4,278.7 322.9,278.7 323.3,278.7 323.7,278.7 324.1,278.7 324.5,278.7 324.9,278.7 325.4,278.7 325.8,278.7 326.2,278.7 326.6,278.7 327.0,278.8 327.4,278.8 327.8,278.8 328.3,278.8 328.7,278.8 329.1,278.8 329.5,278.8 329.9,278.8 330.3,278.8 330.8,278.8 331.2,278.8 331.6,278.8 332.0,278.8"/>
<polyline fill="none" stroke="#ff8000" stroke-width="2.6" stroke-linejoin="round" points="41.5,279.4 41.9,279.4 42.3,279.4 42.7,279.4 43.2,279.4 43.6,279.4 44.0,279.4 44.4,279.4 44.8,279.4 45.2,279.4 45.7,279.4 46.1,279.4 46.5,279.4 46.9,279.4 47.3,279.4 47.7,279.4 48.1,279.4 48.6,279.4 49.0,279.4 49.4,279.4 49.8,279.4 50.2,279.4 50.6,279.4 51.1,279.4 51.5,279.4 51.9,279.4 52.3,279.4 52.7,279.4 53.1,279.4 53.6,279.4 54.0,279.4 54.4,279.4 54.8,279.4 55.2,279.5 55.6,279.5 56.0,279.5 56.5,279.5 56.9,279.5 57.3,279.5 57.7,279.5 58.1,279.5 58.5,279.5 59.0,279.5 59.4,279.5 59.8,279.5 60.2,279.5 60.6,279.5 61.0,279.5 61.4,279.5 61.9,279.5 62.3,279.5 62.7,279.5 63.1,279.5 63.5,279.5 63.9,279.5 64.4,279.5 64.8,279.5 65.2,279.5 65.6,279.5 66.0,279.5 66.4,279.5 66.9,279.4 67.3,279.4 67.7,279.4 68.1,279.4 68.5,279.3 68.9,279.3 69.3,279.3 69.8,279.3 70.2,279.2 70.6,279.2 71.0,279.2 71.4,279.2 71.8,279.1 72.3,279.1 72.7,279.1 73.1,279.1 73.5,279.0 73.9,279.0 74.3,279.0 74.7,278.9 75.2,278.9 75.6,278.9 76.0,278.9 76.4,278.8 76.8,278.8 77.2,278.8 77.7,278.8 78.1,278.7 78.5,278.7 78.9,278.7 79.3,278.7 79.7,278.6 80.2,278.6 80.6,278.6 81.0,278.5 81.4,278.5 81.8,278.5 82.2,278.5 82.6,278.4 83.1,278.4 83.5,278.4 83.9,278.4 84.3,278.3 84.7,278.3 85.1,278.3 85.6,278.2 86.0,278.2 86.4,278.2 86.8,278.2 87.2,278.1 87.6,278.1 88.0,278.1 88.5,278.0 88.9,278.0 89.3,278.0 89.7,278.0 90.1,277.9 90.5,277.9 91.0,277.9 91.4,277.8 91.8,277.8 92.2,277.8 92.6,277.7 93.0,277.7 93.4,277.7 93.9,277.6 94.3,277.6 94.7,277.6 95.1,277.6 95.5,277.5 95.9,277.5 96.4,277.5 96.8,277.4 97.2,277.4 97.6,277.4 98.0,277.3 98.4,277.3 98.9,277.3 99.3,277.2 99.7,277.2 100.1,277.1 100.5,277.1 100.9,277.1 101.3,277.0 101.8,277.0 102.2,277.0 102.6,276.9 103.0,276.9 103.4,276.9 103.8,276.8 104.3,276.8 104.7,276.7 105.1,276.7 105.5,276.6 105.9,276.6 106.3,276.6 106.7,276.5 107.2,276.5 107.6,276.5 108.0,276.4 108.4,276.4 108.8,276.4 109.2,276.3 109.7,276.3 110.1,276.2 110.5,276.2 110.9,276.1 111.3,276.1 111.7,276.0 112.2,276.0 112.6,275.9 113.0,275.9 113.4,275.8 113.8,275.8 114.2,275.7 114.6,275.7 115.1,275.6 115.5,275.5 115.9,275.5 116.3,275.4 116.7,275.3 117.1,275.2 117.6,275.1 118.0,275.0 118.4,274.9 118.8,274.8 119.2,274.7 119.6,274.6 120.0,274.5 120.5,274.4 120.9,274.3 121.3,274.1 121.7,274.0 122.1,273.8 122.5,273.7 123.0,273.5 123.4,273.4 123.8,273.2 124.2,273.0 124.6,272.8 125.0,272.6 125.4,272.4 125.9,272.1 126.3,271.9 126.7,271.6 127.1,271.3 127.5,271.1 127.9,270.8 128.4,270.5 128.8,270.1 129.2,269.8 129.6,269.4 130.0,269.0 130.4,268.6 130.9,268.2 131.3,267.8 131.7,267.3 132.1,266.8 132.5,266.3 132.9,265.8 133.3,265.2 133.8,264.7 134.2,264.1 134.6,263.4 135.0,262.8 135.4,262.1 135.8,261.4 136.3,260.6 136.7,259.8 137.1,259.0 137.5,258.2 137.9,257.3 138.3,256.4 138.7,255.5 139.2,254.5 139.6,253.5 140.0,252.4 140.4,251.3 140.8,250.2 141.2,249.0 141.7,247.8 142.1,246.6 142.5,245.3 142.9,244.0 143.3,242.6 143.7,241.2 144.2,239.7 144.6,238.2 145.0,236.7 145.4,235.1 145.8,233.5 146.2,231.8 146.6,230.1 147.1,228.4 147.5,226.6 147.9,224.7 148.3,222.9 148.7,220.9 149.1,219.0 149.6,217.0 150.0,215.0 150.4,212.9 150.8,210.8 151.2,208.7 151.6,206.5 152.0,204.3 152.5,202.1 152.9,199.8 153.3,197.5 153.7,195.2 154.1,192.9 154.5,190.5 155.0,188.2 155.4,185.8 155.8,183.4 156.2,180.9 156.6,178.5 157.0,176.1 157.5,173.6 157.9,171.2 158.3,168.7 158.7,166.3 159.1,163.8 159.5,161.4 159.9,159.0 160.4,156.6 160.8,154.2 161.2,151.9 161.6,149.5 162.0,147.2 162.4,145.0 162.9,142.7 163.3,140.5 163.7,138.4 164.1,136.2 164.5,134.2 164.9,132.2 165.3,130.2 165.8,128.3 166.2,126.5 166.6,124.7 167.0,123.0 167.4,121.3 167.8,119.8 168.3,118.3 168.7,116.9 169.1,115.5 169.5,114.3 169.9,113.1 170.3,112.0 170.7,111.1 171.2,110.2 171.6,109.4 172.0,108.7 172.4,108.1 172.8,107.6 173.2,107.2 173.7,106.9 174.1,106.7 174.5,106.5 174.9,106.5 175.3,106.6 175.7,106.8 176.2,107.1 176.6,107.5 177.0,107.9 177.4,108.5 177.8,109.2 178.2,109.9 178.6,110.8 179.1,111.7 179.5,112.7 179.9,113.8 180.3,115.0 180.7,116.2 181.1,117.6 181.6,119.0 182.0,120.5 182.4,122.0 182.8,123.7 183.2,125.3 183.6,127.1 184.0,128.9 184.5,130.8 184.9,132.7 185.3,134.7 185.7,136.7 186.1,138.8 186.5,140.9 187.0,143.0 187.4,145.2 187.8,147.4 188.2,149.7 188.6,152.0 189.0,154.3 189.5,156.6 189.9,158.9 190.3,161.3 190.7,163.6 191.1,166.0 191.5,168.4 191.9,170.7 192.4,173.1 192.8,175.5 193.2,177.9 193.6,180.2 194.0,182.6 194.4,184.9 194.9,187.2 195.3,189.5 195.7,191.8 196.1,194.1 196.5,196.4 196.9,198.6 197.3,200.8 197.8,203.0 198.2,205.1 198.6,207.2 199.0,209.3 199.4,211.4 199.8,213.4 200.3,215.3 200.7,217.3 201.1,219.2 201.5,221.1 201.9,222.9 202.3,224.7 202.8,226.5 203.2,228.2 203.6,229.9 204.0,231.5 204.4,233.1 204.8,234.7 205.2,236.2 205.7,237.6 206.1,239.1 206.5,240.5 206.9,241.8 207.3,243.2 207.7,244.4 208.2,245.7 208.6,246.9 209.0,248.0 209.4,249.2 209.8,250.2 210.2,251.3 210.6,252.3 211.1,253.3 211.5,254.2 211.9,255.1 212.3,256.0 212.7,256.9 213.1,257.7 213.6,258.4 214.0,259.2 214.4,259.9 214.8,260.6 215.2,261.3 215.6,261.9 216.0,262.5 216.5,263.1 216.9,263.7 217.3,264.2 217.7,264.7 218.1,265.2 218.5,265.7 219.0,266.1 219.4,266.5 219.8,266.9 220.2,267.3 220.6,267.7 221.0,268.0 221.5,268.4 221.9,268.7 222.3,269.0 222.7,269.3 223.1,269.5 223.5,269.8 223.9,270.1 224.4,270.3 224.8,270.5 225.2,270.7 225.6,270.9 226.0,271.1 226.4,271.3 226.9,271.5 227.3,271.6 227.7,271.8 228.1,271.9 228.5,272.1 228.9,272.2 229.3,272.3 229.8,272.4 230.2,272.5 230.6,272.6 231.0,272.7 231.4,272.8 231.8,272.9 232.3,273.0 232.7,273.1 233.1,273.2 233.5,273.2 233.9,273.3 234.3,273.4 234.8,273.4 235.2,273.5 235.6,273.6 236.0,273.7 236.4,273.7 236.8,273.8 237.2,273.9 237.7,274.0 238.1,274.1 238.5,274.1 238.9,274.2 239.3,274.3 239.7,274.3 240.2,274.4 240.6,274.5 241.0,274.5 241.4,274.6 241.8,274.7 242.2,274.7 242.6,274.8 243.1,274.8 243.5,274.9 243.9,274.9 244.3,275.0 244.7,275.0 245.1,275.1 245.6,275.2 246.0,275.2 246.4,275.3 246.8,275.3 247.2,275.4 247.6,275.4 248.1,275.5 248.5,275.5 248.9,275.5 249.3,275.6 249.7,275.6 250.1,275.7 250.5,275.7 251.0,275.8 251.4,275.8 251.8,275.9 252.2,275.9 252.6,276.0 253.0,276.0 253.5,276.1 253.9,276.1 254.3,276.1 254.7,276.2 255.1,276.2 255.5,276.3 255.9,276.3 256.4,276.4 256.8,276.4 257.2,276.4 257.6,276.5 258.0,276.5 258.4,276.6 258.9,276.6 259.3,276.6 259.7,276.7 260.1,276.7 260.5,276.8 260.9,276.8 261.3,276.9 261.8,276.9 262.2,276.9 262.6,277.0 263.0,277.0 263.4,277.1 263.8,277.1 264.3,277.1 264.7,277.2 265.1,277.2 265.5,277.2 265.9,277.3 266.3,277.3 266.8,277.4 267.2,277.4 267.6,277.4 268.0,277.5 268.4,277.5 268.8,277.6 269.2,277.6 269.7,277.6 270.1,277.7 270.5,277.7 270.9,277.7 271.3,277.7 271.7,277.8 272.2,277.8 272.6,277.8 273.0,277.8 273.4,277.9 273.8,277.9 274.2,277.9 274.6,277.9 275.1,277.9 275.5,278.0 275.9,278.0 276.3,278.0 276.7,278.0 277.1,278.1 277.6,278.1 278.0,278.1 278.4,278.1 278.8,278.1 279.2,278.2 279.6,278.2 280.1,278.2 280.5,278.2 280.9,278.3 281.3,278.3 281.7,278.3 282.1,278.3 282.5,278.3 283.0,278.4 283.4,278.4 283.8,278.4 284.2,278.4 284.6,278.4 285.0,278.5 285.5,278.5 285.9,278.5 286.3,278.5 286.7,278.5 287.1,278.6 287.5,278.6 287.9,278.6 288.4,278.6 288.8,278.6 289.2,278.7 289.6,278.7 290.0,278.7 290.4,278.7 290.9,278.7 291.3,278.8 291.7,278.8 292.1,278.8 292.5,278.8 292.9,278.8 293.3,278.9 293.8,278.9 294.2,278.9 294.6,278.9 295.0,278.9 295.4,279.0 295.8,279.0 296.3,279.0 296.7,279.0 297.1,279.0 297.5,279.1 297.9,279.1 298.3,279.1 298.8,279.1 299.2,279.1 299.6,279.2 300.0,279.2 300.4,279.2 300.8,279.2 301.2,279.2 301.7,279.2 302.1,279.2 302.5,279.2 302.9,279.3 303.3,279.3 303.7,279.3 304.2,279.3 304.6,279.3 305.0,279.3 305.4,279.3 305.8,279.3 306.2,279.3 306.6,279.3 307.1,279.4 307.5,279.4 307.9,279.4 308.3,279.4 308.7,279.4 309.1,279.4 309.6,279.4 310.0,279.4 310.4,279.4 310.8,279.5 311.2,279.5 311.6,279.5 312.1,279.5 312.5,279.5 312.9,279.5 313.3,279.5 313.7,279.5 314.1,279.5 314.5,279.5 315.0,279.6 315.4,279.6 315.8,279.6 316.2,279.6 316.6,279.6 317.0,279.6 317.5,279.6 317.9,279.6 318.3,279.6 318.7,279.6 319.1,279.7 319.5,279.7 319.9,279.7 320.4,279.7 320.8,279.7 321.2,279.7 321.6,279.7 322.0,279.7 322.4,279.7 322.9,279.7 323.3,279.7 323.7,279.8 324.1,279.8 324.5,279.8 324.9,279.8 325.4,279.8 325.8,279.8 326.2,279.8 326.6,279.8 327.0,279.8 327.4,279.8 327.8,279.9 328.3,279.9 328.7,279.9 329.1,279.9 329.5,279.9 329.9,279.9 330.3,279.9 330.8,279.9 331.2,279.9 331.6,279.9 332.0,279.9"/>
<text x="30.40" y="288.05" text-anchor="end" style="font-size:13.00px">0</text>
<text x="30.40" y="260.11" text-anchor="end" style="font-size:13.00px">5</text>
<text x="30.40" y="232.17" text-anchor="end" style="font-size:13.00px">10</text>
<text x="30.40" y="204.23" text-anchor="end" style="font-size:13.00px">15</text>
<text x="30.40" y="176.29" text-anchor="end" style="font-size:13.00px">20</text>
<text x="30.40" y="148.35" text-anchor="end" style="font-size:13.00px">25</text>
<text x="30.40" y="120.41" text-anchor="end" style="font-size:13.00px">30</text>
<text x="30.40" y="92.47" text-anchor="end" style="font-size:13.00px">35</text>
<text x="30.40" y="64.53" text-anchor="end" style="font-size:13.00px">40</text>
<text x="30.40" y="36.59" text-anchor="end" style="font-size:13.00px">45</text>
<text x="30.40" y="8.65" text-anchor="end" style="font-size:13.00px">50</text>
<text x="41.30" y="302.00" text-anchor="middle" style="font-size:13.00px">-0.2</text>
<text x="105.86" y="302.00" text-anchor="middle" style="font-size:13.00px">0</text>
<text x="170.41" y="302.00" text-anchor="middle" style="font-size:13.00px">0.2</text>
<text x="234.97" y="302.00" text-anchor="middle" style="font-size:13.00px">0.4</text>
<text x="299.52" y="302.00" text-anchor="middle" style="font-size:13.00px">0.6</text>
<text x="186.90" y="318.70" text-anchor="middle" style="font-size:14.60px">P(V)</text>
<text transform="translate(9.40 142.70) rotate(-90)" text-anchor="middle" style="font-size:14.80px">I(μA)</text>
<text x="59.00" y="18.70" style="font-size:17.00px;font-weight:bold">A</text>
<path d="M220.3 97.40H247.1" stroke="#00ff00" stroke-width="2.3" stroke-linecap="round"/>
<text x="250.60" y="100.80" style="font-size:12.70px">Anti-CA15-3</text>
<path d="M220.3 124.30H247.1" stroke="#ffff00" stroke-width="2.3" stroke-linecap="round"/>
<text x="250.60" y="127.70" style="font-size:12.70px">CA15-3</text>
<path d="M220.3 151.20H247.1" stroke="#ff0080" stroke-width="2.3" stroke-linecap="round"/>
<text x="250.60" y="154.60" style="font-size:12.70px">CA19-9</text>
<path d="M220.3 178.10H247.1" stroke="#ff00ff" stroke-width="2.3" stroke-linecap="round"/>
<text x="250.60" y="181.50" style="font-size:12.70px">PSA</text>
<path d="M220.3 205.00H247.1" stroke="#ff8000" stroke-width="2.3" stroke-linecap="round"/>
<text x="250.60" y="208.40" style="font-size:12.70px">mix</text>
<rect x="417.10" y="22.83" width="18" height="259.07" fill="#00ff00"/>
<path d="M426.10 21.43V24.23M422.60 21.43h7M422.60 24.23h7" stroke="#595959" stroke-width="1.2"/>
<text transform="translate(431.10 297.20) rotate(-45)" text-anchor="end" style="font-size:13.00px">Anti-CA15-3</text>
<rect x="474.70" y="57.21" width="18" height="224.69" fill="#ffff00"/>
<path d="M483.70 54.80V59.63M480.20 54.80h7M480.20 59.63h7" stroke="#595959" stroke-width="1.2"/>
<text transform="translate(488.70 297.20) rotate(-45)" text-anchor="end" style="font-size:13.00px">CA15-3</text>
<rect x="532.30" y="30.99" width="18" height="250.91" fill="#ff0080"/>
<path d="M541.30 26.40V35.59M537.80 26.40h7M537.80 35.59h7" stroke="#595959" stroke-width="1.2"/>
<text transform="translate(546.30 297.20) rotate(-45)" text-anchor="end" style="font-size:13.00px">CA19-9</text>
<rect x="589.90" y="39.40" width="18" height="242.50" fill="#ff00ff"/>
<path d="M598.90 36.95V41.85M595.40 36.95h7M595.40 41.85h7" stroke="#595959" stroke-width="1.2"/>
<text transform="translate(603.90 297.20) rotate(-45)" text-anchor="end" style="font-size:13.00px">PSA</text>
<rect x="647.50" y="40.02" width="18" height="241.88" fill="#ff8000"/>
<path d="M656.50 36.05V43.99M653.00 36.05h7M653.00 43.99h7" stroke="#595959" stroke-width="1.2"/>
<text transform="translate(661.50 297.20) rotate(-45)" text-anchor="end" style="font-size:13.00px">mix</text>
<path d="M397.50 9.60V281.90" fill="none" stroke="#404040" stroke-width="1.1"/>
<path d="M393.20 243.00H397.50M393.20 204.10H397.50M393.20 165.20H397.50M393.20 126.30H397.50M393.20 87.40H397.50M393.20 48.50H397.50M393.20 9.60H397.50" stroke="#404040" stroke-width="1.1"/>
<path d="M393.20 281.90H685" stroke="#5c5c5c" stroke-width="1.8"/>
<text x="386.00" y="288.10" text-anchor="end" style="font-size:13.00px">0</text>
<text x="386.00" y="249.20" text-anchor="end" style="font-size:13.00px">5</text>
<text x="386.00" y="210.30" text-anchor="end" style="font-size:13.00px">10</text>
<text x="386.00" y="171.40" text-anchor="end" style="font-size:13.00px">15</text>
<text x="386.00" y="132.50" text-anchor="end" style="font-size:13.00px">20</text>
<text x="386.00" y="93.60" text-anchor="end" style="font-size:13.00px">25</text>
<text x="386.00" y="54.70" text-anchor="end" style="font-size:13.00px">30</text>
<text x="386.00" y="15.80" text-anchor="end" style="font-size:13.00px">35</text>
<text transform="translate(364.20 155.40) rotate(-90)" text-anchor="middle" style="font-size:14.20px">Average peak height (μA)</text>
<text x="414.80" y="15.40" style="font-size:17.00px;font-weight:bold">B</text>
<path d="M55.05 371.85V652.90H225.70" fill="none" stroke="#5c5c5c" stroke-width="1.6"/>
<path d="M51.05 652.90H55.05M51.05 612.75H55.05M51.05 572.60H55.05M51.05 532.45H55.05M51.05 492.30H55.05M51.05 452.15H55.05M51.05 412.00H55.05M51.05 371.85H55.05M55.05 652.90V656.80M140.38 652.90V656.80M225.70 652.90V656.80" stroke="#5c5c5c" stroke-width="1.5"/>
<polyline fill="none" stroke="#00b0f0" stroke-width="2.4" stroke-linejoin="round" points="55.0,641.3 55.3,641.3 55.5,641.3 55.7,641.4 55.9,641.4 56.2,641.4 56.4,641.5 56.6,641.5 56.8,641.6 57.0,641.6 57.3,641.6 57.5,641.7 57.7,641.7 57.9,641.7 58.2,641.8 58.4,641.8 58.6,641.8 58.8,641.9 59.0,641.9 59.3,642.0 59.5,642.0 59.7,642.0 59.9,642.1 60.2,642.1 60.4,642.1 60.6,642.2 60.8,642.2 61.0,642.2 61.3,642.3 61.5,642.3 61.7,642.4 61.9,642.4 62.2,642.4 62.4,642.5 62.6,642.5 62.8,642.5 63.0,642.6 63.3,642.6 63.5,642.6 63.7,642.7 63.9,642.7 64.2,642.8 64.4,642.8 64.6,642.8 64.8,642.9 65.0,642.9 65.3,642.9 65.5,643.0 65.7,643.0 65.9,643.0 66.2,643.1 66.4,643.1 66.6,643.2 66.8,643.2 67.0,643.2 67.3,643.3 67.5,643.3 67.7,643.3 67.9,643.4 68.2,643.4 68.4,643.4 68.6,643.5 68.8,643.5 69.0,643.5 69.3,643.6 69.5,643.6 69.7,643.7 69.9,643.7 70.2,643.7 70.4,643.8 70.6,643.8 70.8,643.8 71.0,643.9 71.3,643.9 71.5,643.8 71.7,643.8 71.9,643.8 72.2,643.8 72.4,643.8 72.6,643.8 72.8,643.8 73.0,643.8 73.3,643.8 73.5,643.8 73.7,643.8 73.9,643.8 74.2,643.8 74.4,643.8 74.6,643.8 74.8,643.8 75.0,643.8 75.3,643.8 75.5,643.8 75.7,643.8 75.9,643.7 76.1,643.7 76.4,643.7 76.6,643.7 76.8,643.7 77.0,643.7 77.3,643.7 77.5,643.7 77.7,643.7 77.9,643.7 78.1,643.7 78.4,643.7 78.6,643.7 78.8,643.7 79.0,643.6 79.3,643.6 79.5,643.6 79.7,643.6 79.9,643.6 80.1,643.6 80.4,643.6 80.6,643.6 80.8,643.6 81.0,643.6 81.3,643.5 81.5,643.5 81.7,643.5 81.9,643.5 82.1,643.5 82.4,643.5 82.6,643.5 82.8,643.5 83.0,643.5 83.3,643.4 83.5,643.4 83.7,643.4 83.9,643.4 84.1,643.4 84.4,643.4 84.6,643.3 84.8,643.3 85.0,643.3 85.3,643.3 85.5,643.3 85.7,643.3 85.9,643.2 86.1,643.2 86.4,643.2 86.6,643.2 86.8,643.1 87.0,643.1 87.3,643.1 87.5,643.1 87.7,643.0 87.9,643.0 88.1,643.0 88.4,643.0 88.6,642.9 88.8,642.9 89.0,642.9 89.3,642.8 89.5,642.8 89.7,642.7 89.9,642.7 90.1,642.7 90.4,642.6 90.6,642.6 90.8,642.5 91.0,642.5 91.3,642.4 91.5,642.4 91.7,642.3 91.9,642.2 92.1,642.2 92.4,642.1 92.6,642.0 92.8,642.0 93.0,641.9 93.3,641.8 93.5,641.7 93.7,641.7 93.9,641.6 94.1,641.5 94.4,641.4 94.6,641.3 94.8,641.2 95.0,641.1 95.3,640.9 95.5,640.8 95.7,640.7 95.9,640.6 96.1,640.4 96.4,640.3 96.6,640.1 96.8,640.0 97.0,639.8 97.2,639.7 97.5,639.5 97.7,639.3 97.9,639.1 98.1,638.9 98.4,638.7 98.6,638.5 98.8,638.3 99.0,638.0 99.2,637.8 99.5,637.5 99.7,637.3 99.9,637.0 100.1,636.7 100.4,636.4 100.6,636.1 100.8,635.8 101.0,635.5 101.2,635.1 101.5,634.8 101.7,634.4 101.9,634.0 102.1,633.6 102.4,633.2 102.6,632.8 102.8,632.3 103.0,631.8 103.2,631.4 103.5,630.8 103.7,630.3 103.9,629.8 104.1,629.2 104.4,628.6 104.6,628.0 104.8,627.4 105.0,626.8 105.2,626.1 105.5,625.4 105.7,624.7 105.9,623.9 106.1,623.2 106.4,622.4 106.6,621.6 106.8,620.7 107.0,619.9 107.2,619.0 107.5,618.0 107.7,617.1 107.9,616.1 108.1,615.1 108.4,614.1 108.6,613.0 108.8,611.9 109.0,610.8 109.2,609.6 109.5,608.5 109.7,607.3 109.9,606.0 110.1,604.7 110.4,603.4 110.6,602.1 110.8,600.7 111.0,599.3 111.2,597.9 111.5,596.4 111.7,594.9 111.9,593.4 112.1,591.9 112.4,590.3 112.6,588.7 112.8,587.0 113.0,585.4 113.2,583.7 113.5,581.9 113.7,580.2 113.9,578.4 114.1,576.6 114.4,574.8 114.6,572.9 114.8,571.0 115.0,569.1 115.2,567.2 115.5,565.2 115.7,563.3 115.9,561.3 116.1,559.3 116.4,557.2 116.6,555.2 116.8,553.2 117.0,551.1 117.2,549.0 117.5,547.0 117.7,544.9 117.9,542.8 118.1,540.7 118.3,538.6 118.6,536.5 118.8,534.4 119.0,532.3 119.2,530.3 119.5,528.2 119.7,526.1 119.9,524.1 120.1,522.1 120.3,520.1 120.6,518.1 120.8,516.1 121.0,514.2 121.2,512.3 121.5,510.4 121.7,508.5 121.9,506.7 122.1,505.0 122.3,503.2 122.6,501.5 122.8,499.9 123.0,498.3 123.2,496.8 123.5,495.3 123.7,493.8 123.9,492.5 124.1,491.1 124.3,489.9 124.6,488.7 124.8,487.6 125.0,486.5 125.2,485.5 125.5,484.6 125.7,483.7 125.9,483.0 126.1,482.2 126.3,481.6 126.6,481.1 126.8,480.6 127.0,480.2 127.2,479.9 127.5,479.7 127.7,479.5 127.9,479.5 128.1,479.5 128.3,479.5 128.6,479.7 128.8,479.9 129.0,480.2 129.2,480.6 129.5,481.0 129.7,481.5 129.9,482.0 130.1,482.7 130.3,483.4 130.6,484.1 130.8,484.9 131.0,485.8 131.2,486.7 131.5,487.7 131.7,488.8 131.9,489.9 132.1,491.0 132.3,492.2 132.6,493.5 132.8,494.8 133.0,496.2 133.2,497.5 133.5,499.0 133.7,500.5 133.9,502.0 134.1,503.5 134.3,505.1 134.6,506.7 134.8,508.4 135.0,510.0 135.2,511.7 135.5,513.5 135.7,515.2 135.9,517.0 136.1,518.7 136.3,520.5 136.6,522.4 136.8,524.2 137.0,526.0 137.2,527.8 137.5,529.7 137.7,531.5 137.9,533.4 138.1,535.2 138.3,537.1 138.6,539.0 138.8,540.8 139.0,542.6 139.2,544.5 139.4,546.3 139.7,548.1 139.9,549.9 140.1,551.7 140.3,553.5 140.6,555.3 140.8,557.1 141.0,558.8 141.2,560.5 141.4,562.3 141.7,564.0 141.9,565.6 142.1,567.3 142.3,568.9 142.6,570.6 142.8,572.2 143.0,573.7 143.2,575.3 143.4,576.8 143.7,578.4 143.9,579.8 144.1,581.3 144.3,582.8 144.6,584.2 144.8,585.6 145.0,587.0 145.2,588.3 145.4,589.7 145.7,591.0 145.9,592.3 146.1,593.5 146.3,594.8 146.6,596.0 146.8,597.2 147.0,598.4 147.2,599.5 147.4,600.6 147.7,601.7 147.9,602.8 148.1,603.9 148.3,604.9 148.6,605.9 148.8,606.9 149.0,607.9 149.2,608.9 149.4,609.8 149.7,610.7 149.9,611.6 150.1,612.5 150.3,613.3 150.6,614.2 150.8,615.0 151.0,615.8 151.2,616.5 151.4,617.3 151.7,618.0 151.9,618.8 152.1,619.5 152.3,620.2 152.6,620.8 152.8,621.5 153.0,622.2 153.2,622.8 153.4,623.4 153.7,624.0 153.9,624.6 154.1,625.1 154.3,625.7 154.6,626.2 154.8,626.8 155.0,627.3 155.2,627.8 155.4,628.3 155.7,628.8 155.9,629.2 156.1,629.7 156.3,630.1 156.6,630.5 156.8,631.0 157.0,631.4 157.2,631.8 157.4,632.2 157.7,632.5 157.9,632.9 158.1,633.3 158.3,633.6 158.6,633.9 158.8,634.3 159.0,634.6 159.2,634.9 159.4,635.2 159.7,635.5 159.9,635.8 160.1,636.1 160.3,636.4 160.5,636.6 160.8,636.9 161.0,637.2 161.2,637.4 161.4,637.6 161.7,637.9 161.9,638.1 162.1,638.3 162.3,638.5 162.5,638.8 162.8,639.0 163.0,639.2 163.2,639.4 163.4,639.5 163.7,639.7 163.9,639.9 164.1,640.1 164.3,640.3 164.5,640.4 164.8,640.6 165.0,640.7 165.2,640.9 165.4,641.0 165.7,641.2 165.9,641.3 166.1,641.5 166.3,641.6 166.5,641.7 166.8,641.9 167.0,642.0 167.2,642.1 167.4,642.2 167.7,642.3 167.9,642.4 168.1,642.6 168.3,642.7 168.5,642.8 168.8,642.9 169.0,643.0 169.2,643.1 169.4,643.1 169.7,643.2 169.9,643.3 170.1,643.4 170.3,643.5 170.5,643.6 170.8,643.7 171.0,643.8 171.2,643.9 171.4,643.9 171.7,644.0 171.9,644.1 172.1,644.2 172.3,644.3 172.5,644.3 172.8,644.4 173.0,644.5 173.2,644.5 173.4,644.6 173.7,644.7 173.9,644.8 174.1,644.8 174.3,644.9 174.5,644.9 174.8,645.0 175.0,645.1 175.2,645.1 175.4,645.2 175.7,645.2 175.9,645.3 176.1,645.3 176.3,645.4 176.5,645.4 176.8,645.5 177.0,645.5 177.2,645.6 177.4,645.6 177.7,645.7 177.9,645.7 178.1,645.8 178.3,645.8 178.5,645.9 178.8,645.9 179.0,646.0 179.2,646.0 179.4,646.0 179.6,646.1 179.9,646.1 180.1,646.2 180.3,646.2 180.5,646.2 180.8,646.3 181.0,646.3 181.2,646.3 181.4,646.4 181.6,646.4 181.9,646.5 182.1,646.5 182.3,646.5 182.5,646.6 182.8,646.6 183.0,646.6 183.2,646.7 183.4,646.7 183.6,646.7 183.9,646.7 184.1,646.8 184.3,646.8 184.5,646.8 184.8,646.9 185.0,646.9 185.2,646.9 185.4,647.0 185.6,647.0 185.9,647.0 186.1,647.0 186.3,647.1 186.5,647.1 186.8,647.1 187.0,647.1 187.2,647.2 187.4,647.2 187.6,647.2 187.9,647.2 188.1,647.3 188.3,647.3 188.5,647.3 188.8,647.3 189.0,647.4 189.2,647.4 189.4,647.4 189.6,647.4 189.9,647.5 190.1,647.5 190.3,647.5 190.5,647.5 190.8,647.5 191.0,647.5 191.2,647.6 191.4,647.6 191.6,647.6 191.9,647.6 192.1,647.6 192.3,647.6 192.5,647.6 192.8,647.7 193.0,647.7 193.2,647.7 193.4,647.7 193.6,647.7 193.9,647.7 194.1,647.7 194.3,647.7 194.5,647.8 194.8,647.8 195.0,647.8 195.2,647.8 195.4,647.8 195.6,647.8 195.9,647.8 196.1,647.8 196.3,647.8 196.5,647.9 196.8,647.9 197.0,647.9 197.2,647.9 197.4,647.9 197.6,647.9 197.9,647.9 198.1,647.9 198.3,647.9 198.5,648.0 198.8,648.0 199.0,648.0 199.2,648.0 199.4,648.0 199.6,648.0 199.9,648.0 200.1,648.0 200.3,648.0 200.5,648.1 200.7,648.1 201.0,648.1 201.2,648.1 201.4,648.1 201.6,648.1 201.9,648.1 202.1,648.1 202.3,648.1 202.5,648.1 202.7,648.2 203.0,648.2 203.2,648.2 203.4,648.2 203.6,648.2 203.9,648.2 204.1,648.2 204.3,648.2 204.5,648.2 204.7,648.2 205.0,648.3 205.2,648.3 205.4,648.3 205.6,648.3 205.9,648.3 206.1,648.3 206.3,648.3 206.5,648.3 206.7,648.3 207.0,648.3 207.2,648.3 207.4,648.4 207.6,648.4 207.9,648.4 208.1,648.4 208.3,648.4 208.5,648.4 208.7,648.4 209.0,648.4 209.2,648.4 209.4,648.4 209.6,648.5 209.9,648.5 210.1,648.5 210.3,648.5"/>
<polyline fill="none" stroke="#ffc000" stroke-width="2.4" stroke-linejoin="round" points="55.0,641.3 55.3,641.3 55.5,641.3 55.7,641.4 55.9,641.4 56.2,641.4 56.4,641.5 56.6,641.5 56.8,641.6 57.0,641.6 57.3,641.6 57.5,641.7 57.7,641.7 57.9,641.7 58.2,641.8 58.4,641.8 58.6,641.8 58.8,641.9 59.0,641.9 59.3,642.0 59.5,642.0 59.7,642.0 59.9,642.1 60.2,642.1 60.4,642.1 60.6,642.2 60.8,642.2 61.0,642.3 61.3,642.3 61.5,642.3 61.7,642.4 61.9,642.4 62.2,642.4 62.4,642.5 62.6,642.5 62.8,642.5 63.0,642.6 63.3,642.6 63.5,642.7 63.7,642.7 63.9,642.7 64.2,642.8 64.4,642.8 64.6,642.8 64.8,642.9 65.0,642.9 65.3,642.9 65.5,643.0 65.7,643.0 65.9,643.1 66.2,643.1 66.4,643.1 66.6,643.2 66.8,643.2 67.0,643.2 67.3,643.3 67.5,643.3 67.7,643.3 67.9,643.4 68.2,643.4 68.4,643.4 68.6,643.5 68.8,643.5 69.0,643.6 69.3,643.6 69.5,643.6 69.7,643.7 69.9,643.7 70.2,643.7 70.4,643.8 70.6,643.8 70.8,643.8 71.0,643.9 71.3,643.9 71.5,643.9 71.7,643.9 71.9,643.9 72.2,643.8 72.4,643.8 72.6,643.8 72.8,643.8 73.0,643.8 73.3,643.8 73.5,643.8 73.7,643.8 73.9,643.8 74.2,643.8 74.4,643.8 74.6,643.8 74.8,643.8 75.0,643.8 75.3,643.8 75.5,643.8 75.7,643.8 75.9,643.8 76.1,643.8 76.4,643.8 76.6,643.7 76.8,643.7 77.0,643.7 77.3,643.7 77.5,643.7 77.7,643.7 77.9,643.7 78.1,643.7 78.4,643.7 78.6,643.7 78.8,643.7 79.0,643.7 79.3,643.7 79.5,643.7 79.7,643.6 79.9,643.6 80.1,643.6 80.4,643.6 80.6,643.6 80.8,643.6 81.0,643.6 81.3,643.6 81.5,643.6 81.7,643.6 81.9,643.6 82.1,643.5 82.4,643.5 82.6,643.5 82.8,643.5 83.0,643.5 83.3,643.5 83.5,643.5 83.7,643.5 83.9,643.5 84.1,643.4 84.4,643.4 84.6,643.4 84.8,643.4 85.0,643.4 85.3,643.4 85.5,643.3 85.7,643.3 85.9,643.3 86.1,643.3 86.4,643.3 86.6,643.3 86.8,643.2 87.0,643.2 87.3,643.2 87.5,643.2 87.7,643.1 87.9,643.1 88.1,643.1 88.4,643.1 88.6,643.0 88.8,643.0 89.0,643.0 89.3,643.0 89.5,642.9 89.7,642.9 89.9,642.9 90.1,642.8 90.4,642.8 90.6,642.7 90.8,642.7 91.0,642.7 91.3,642.6 91.5,642.6 91.7,642.5 91.9,642.5 92.1,642.4 92.4,642.3 92.6,642.3 92.8,642.2 93.0,642.2 93.3,642.1 93.5,642.0 93.7,642.0 93.9,641.9 94.1,641.8 94.4,641.7 94.6,641.6 94.8,641.5 95.0,641.4 95.3,641.3 95.5,641.2 95.7,641.1 95.9,641.0 96.1,640.9 96.4,640.8 96.6,640.6 96.8,640.5 97.0,640.4 97.2,640.2 97.5,640.0 97.7,639.9 97.9,639.7 98.1,639.5 98.4,639.3 98.6,639.2 98.8,638.9 99.0,638.7 99.2,638.5 99.5,638.3 99.7,638.0 99.9,637.8 100.1,637.5 100.4,637.3 100.6,637.0 100.8,636.7 101.0,636.4 101.2,636.1 101.5,635.8 101.7,635.4 101.9,635.1 102.1,634.7 102.4,634.3 102.6,633.9 102.8,633.5 103.0,633.0 103.2,632.6 103.5,632.1 103.7,631.6 103.9,631.1 104.1,630.6 104.4,630.0 104.6,629.4 104.8,628.8 105.0,628.2 105.2,627.6 105.5,626.9 105.7,626.2 105.9,625.5 106.1,624.8 106.4,624.0 106.6,623.2 106.8,622.4 107.0,621.5 107.2,620.7 107.5,619.8 107.7,618.8 107.9,617.9 108.1,616.9 108.4,615.8 108.6,614.8 108.8,613.7 109.0,612.6 109.2,611.4 109.5,610.3 109.7,609.0 109.9,607.8 110.1,606.5 110.4,605.2 110.6,603.8 110.8,602.4 111.0,601.0 111.2,599.6 111.5,598.1 111.7,596.6 111.9,595.0 112.1,593.4 112.4,591.8 112.6,590.1 112.8,588.4 113.0,586.7 113.2,585.0 113.5,583.2 113.7,581.4 113.9,579.5 114.1,577.6 114.4,575.7 114.6,573.8 114.8,571.8 115.0,569.8 115.2,567.8 115.5,565.7 115.7,563.7 115.9,561.6 116.1,559.5 116.4,557.3 116.6,555.2 116.8,553.0 117.0,550.8 117.2,548.6 117.5,546.4 117.7,544.2 117.9,541.9 118.1,539.7 118.3,537.5 118.6,535.2 118.8,533.0 119.0,530.7 119.2,528.5 119.5,526.3 119.7,524.1 119.9,521.8 120.1,519.7 120.3,517.5 120.6,515.3 120.8,513.2 121.0,511.1 121.2,509.0 121.5,507.0 121.7,505.0 121.9,503.0 122.1,501.1 122.3,499.2 122.6,497.3 122.8,495.5 123.0,493.8 123.2,492.1 123.5,490.5 123.7,488.9 123.9,487.4 124.1,485.9 124.3,484.5 124.6,483.2 124.8,482.0 125.0,480.8 125.2,479.7 125.5,478.7 125.7,477.8 125.9,476.9 126.1,476.1 126.3,475.4 126.6,474.8 126.8,474.3 127.0,473.9 127.2,473.5 127.5,473.3 127.7,473.1 127.9,473.0 128.1,473.0 128.3,473.1 128.6,473.3 128.8,473.5 129.0,473.8 129.2,474.2 129.5,474.6 129.7,475.1 129.9,475.7 130.1,476.3 130.3,477.0 130.6,477.7 130.8,478.6 131.0,479.5 131.2,480.4 131.5,481.4 131.7,482.5 131.9,483.6 132.1,484.8 132.3,486.0 132.6,487.3 132.8,488.6 133.0,490.0 133.2,491.4 133.5,492.8 133.7,494.3 133.9,495.9 134.1,497.5 134.3,499.1 134.6,500.7 134.8,502.4 135.0,504.1 135.2,505.8 135.5,507.6 135.7,509.4 135.9,511.2 136.1,513.0 136.3,514.8 136.6,516.7 136.8,518.5 137.0,520.4 137.2,522.3 137.5,524.2 137.7,526.1 137.9,527.9 138.1,529.8 138.3,531.8 138.6,533.7 138.8,535.5 139.0,537.4 139.2,539.3 139.4,541.2 139.7,543.1 139.9,545.0 140.1,546.8 140.3,548.6 140.6,550.5 140.8,552.3 141.0,554.1 141.2,555.9 141.4,557.7 141.7,559.4 141.9,561.1 142.1,562.9 142.3,564.6 142.6,566.2 142.8,567.9 143.0,569.5 143.2,571.2 143.4,572.8 143.7,574.3 143.9,575.9 144.1,577.4 144.3,578.9 144.6,580.4 144.8,581.9 145.0,583.3 145.2,584.7 145.4,586.1 145.7,587.5 145.9,588.8 146.1,590.1 146.3,591.4 146.6,592.7 146.8,594.0 147.0,595.2 147.2,596.4 147.4,597.6 147.7,598.7 147.9,599.9 148.1,601.0 148.3,602.1 148.6,603.1 148.8,604.2 149.0,605.2 149.2,606.2 149.4,607.2 149.7,608.2 149.9,609.1 150.1,610.0 150.3,610.9 150.6,611.8 150.8,612.7 151.0,613.5 151.2,614.3 151.4,615.1 151.7,615.9 151.9,616.7 152.1,617.4 152.3,618.2 152.6,618.9 152.8,619.6 153.0,620.3 153.2,620.9 153.4,621.6 153.7,622.2 153.9,622.9 154.1,623.5 154.3,624.1 154.6,624.6 154.8,625.2 155.0,625.7 155.2,626.3 155.4,626.8 155.7,627.3 155.9,627.8 156.1,628.3 156.3,628.8 156.6,629.2 156.8,629.7 157.0,630.1 157.2,630.5 157.4,630.9 157.7,631.4 157.9,631.7 158.1,632.1 158.3,632.5 158.6,632.9 158.8,633.2 159.0,633.6 159.2,633.9 159.4,634.2 159.7,634.6 159.9,634.9 160.1,635.2 160.3,635.5 160.5,635.8 160.8,636.0 161.0,636.3 161.2,636.6 161.4,636.9 161.7,637.1 161.9,637.4 162.1,637.6 162.3,637.8 162.5,638.1 162.8,638.3 163.0,638.5 163.2,638.7 163.4,638.9 163.7,639.1 163.9,639.3 164.1,639.5 164.3,639.7 164.5,639.9 164.8,640.0 165.0,640.2 165.2,640.4 165.4,640.5 165.7,640.7 165.9,640.8 166.1,641.0 166.3,641.1 166.5,641.3 166.8,641.4 167.0,641.5 167.2,641.7 167.4,641.8 167.7,641.9 167.9,642.1 168.1,642.2 168.3,642.3 168.5,642.4 168.8,642.5 169.0,642.6 169.2,642.7 169.4,642.8 169.7,642.9 169.9,643.0 170.1,643.1 170.3,643.2 170.5,643.3 170.8,643.4 171.0,643.5 171.2,643.6 171.4,643.7 171.7,643.8 171.9,643.9 172.1,643.9 172.3,644.0 172.5,644.1 172.8,644.2 173.0,644.3 173.2,644.3 173.4,644.4 173.7,644.5 173.9,644.6 174.1,644.6 174.3,644.7 174.5,644.8 174.8,644.8 175.0,644.9 175.2,644.9 175.4,645.0 175.7,645.1 175.9,645.1 176.1,645.2 176.3,645.2 176.5,645.3 176.8,645.4 177.0,645.4 177.2,645.5 177.4,645.5 177.7,645.6 177.9,645.6 178.1,645.7 178.3,645.7 178.5,645.8 178.8,645.8 179.0,645.8 179.2,645.9 179.4,645.9 179.6,646.0 179.9,646.0 180.1,646.1 180.3,646.1 180.5,646.1 180.8,646.2 181.0,646.2 181.2,646.3 181.4,646.3 181.6,646.3 181.9,646.4 182.1,646.4 182.3,646.4 182.5,646.5 182.8,646.5 183.0,646.5 183.2,646.6 183.4,646.6 183.6,646.6 183.9,646.7 184.1,646.7 184.3,646.7 184.5,646.8 184.8,646.8 185.0,646.8 185.2,646.9 185.4,646.9 185.6,646.9 185.9,647.0 186.1,647.0 186.3,647.0 186.5,647.0 186.8,647.1 187.0,647.1 187.2,647.1 187.4,647.2 187.6,647.2 187.9,647.2 188.1,647.2 188.3,647.3 188.5,647.3 188.8,647.3 189.0,647.3 189.2,647.4 189.4,647.4 189.6,647.4 189.9,647.4 190.1,647.5 190.3,647.5 190.5,647.5 190.8,647.5 191.0,647.5 191.2,647.5 191.4,647.5 191.6,647.6 191.9,647.6 192.1,647.6 192.3,647.6 192.5,647.6 192.8,647.6 193.0,647.6 193.2,647.7 193.4,647.7 193.6,647.7 193.9,647.7 194.1,647.7 194.3,647.7 194.5,647.7 194.8,647.7 195.0,647.8 195.2,647.8 195.4,647.8 195.6,647.8 195.9,647.8 196.1,647.8 196.3,647.8 196.5,647.8 196.8,647.9 197.0,647.9 197.2,647.9 197.4,647.9 197.6,647.9 197.9,647.9 198.1,647.9 198.3,647.9 198.5,647.9 198.8,648.0 199.0,648.0 199.2,648.0 199.4,648.0 199.6,648.0 199.9,648.0 200.1,648.0 200.3,648.0 200.5,648.0 200.7,648.1 201.0,648.1 201.2,648.1 201.4,648.1 201.6,648.1 201.9,648.1 202.1,648.1 202.3,648.1 202.5,648.1 202.7,648.1 203.0,648.2 203.2,648.2 203.4,648.2 203.6,648.2 203.9,648.2 204.1,648.2 204.3,648.2 204.5,648.2 204.7,648.2 205.0,648.2 205.2,648.3 205.4,648.3 205.6,648.3 205.9,648.3 206.1,648.3 206.3,648.3 206.5,648.3 206.7,648.3 207.0,648.3 207.2,648.3 207.4,648.4 207.6,648.4 207.9,648.4 208.1,648.4 208.3,648.4 208.5,648.4 208.7,648.4 209.0,648.4 209.2,648.4 209.4,648.4 209.6,648.5 209.9,648.5 210.1,648.5 210.3,648.5"/>
<polyline fill="none" stroke="#66ffff" stroke-width="2.4" stroke-linejoin="round" points="55.0,644.1 55.3,644.1 55.5,644.1 55.7,644.2 55.9,644.2 56.2,644.3 56.4,644.3 56.6,644.3 56.8,644.4 57.0,644.4 57.3,644.4 57.5,644.5 57.7,644.5 57.9,644.5 58.2,644.6 58.4,644.6 58.6,644.7 58.8,644.7 59.0,644.7 59.3,644.8 59.5,644.8 59.7,644.8 59.9,644.9 60.2,644.9 60.4,644.9 60.6,645.0 60.8,645.0 61.0,645.1 61.3,645.1 61.5,645.1 61.7,645.2 61.9,645.2 62.2,645.2 62.4,645.3 62.6,645.3 62.8,645.3 63.0,645.4 63.3,645.4 63.5,645.5 63.7,645.5 63.9,645.5 64.2,645.6 64.4,645.6 64.6,645.6 64.8,645.7 65.0,645.7 65.3,645.7 65.5,645.8 65.7,645.8 65.9,645.8 66.2,645.9 66.4,645.9 66.6,646.0 66.8,646.0 67.0,646.0 67.3,646.1 67.5,646.1 67.7,646.1 67.9,646.2 68.2,646.2 68.4,646.2 68.6,646.3 68.8,646.3 69.0,646.3 69.3,646.4 69.5,646.4 69.7,646.4 69.9,646.5 70.2,646.5 70.4,646.6 70.6,646.6 70.8,646.6 71.0,646.7 71.3,646.6 71.5,646.6 71.7,646.6 71.9,646.6 72.2,646.6 72.4,646.6 72.6,646.6 72.8,646.6 73.0,646.6 73.3,646.6 73.5,646.6 73.7,646.6 73.9,646.6 74.2,646.6 74.4,646.6 74.6,646.6 74.8,646.5 75.0,646.5 75.3,646.5 75.5,646.5 75.7,646.5 75.9,646.5 76.1,646.5 76.4,646.5 76.6,646.5 76.8,646.5 77.0,646.5 77.3,646.5 77.5,646.5 77.7,646.4 77.9,646.4 78.1,646.4 78.4,646.4 78.6,646.4 78.8,646.4 79.0,646.4 79.3,646.4 79.5,646.4 79.7,646.3 79.9,646.3 80.1,646.3 80.4,646.3 80.6,646.3 80.8,646.3 81.0,646.3 81.3,646.3 81.5,646.2 81.7,646.2 81.9,646.2 82.1,646.2 82.4,646.2 82.6,646.2 82.8,646.1 83.0,646.1 83.3,646.1 83.5,646.1 83.7,646.1 83.9,646.0 84.1,646.0 84.4,646.0 84.6,646.0 84.8,645.9 85.0,645.9 85.3,645.9 85.5,645.9 85.7,645.8 85.9,645.8 86.1,645.8 86.4,645.7 86.6,645.7 86.8,645.7 87.0,645.6 87.3,645.6 87.5,645.5 87.7,645.5 87.9,645.5 88.1,645.4 88.4,645.4 88.6,645.3 88.8,645.3 89.0,645.2 89.3,645.2 89.5,645.1 89.7,645.0 89.9,645.0 90.1,644.9 90.4,644.8 90.6,644.8 90.8,644.7 91.0,644.6 91.3,644.5 91.5,644.4 91.7,644.3 91.9,644.2 92.1,644.1 92.4,644.0 92.6,643.9 92.8,643.8 93.0,643.7 93.3,643.5 93.5,643.4 93.7,643.3 93.9,643.1 94.1,643.0 94.4,642.8 94.6,642.7 94.8,642.5 95.0,642.3 95.3,642.1 95.5,641.9 95.7,641.7 95.9,641.5 96.1,641.3 96.4,641.0 96.6,640.8 96.8,640.5 97.0,640.2 97.2,640.0 97.5,639.7 97.7,639.4 97.9,639.0 98.1,638.7 98.4,638.3 98.6,638.0 98.8,637.6 99.0,637.2 99.2,636.8 99.5,636.3 99.7,635.9 99.9,635.4 100.1,634.9 100.4,634.4 100.6,633.9 100.8,633.3 101.0,632.8 101.2,632.2 101.5,631.6 101.7,630.9 101.9,630.3 102.1,629.6 102.4,628.9 102.6,628.1 102.8,627.3 103.0,626.5 103.2,625.7 103.5,624.8 103.7,623.9 103.9,623.0 104.1,622.0 104.4,621.0 104.6,620.0 104.8,618.9 105.0,617.8 105.2,616.7 105.5,615.5 105.7,614.3 105.9,613.1 106.1,611.8 106.4,610.4 106.6,609.1 106.8,607.6 107.0,606.2 107.2,604.7 107.5,603.1 107.7,601.5 107.9,599.9 108.1,598.2 108.4,596.5 108.6,594.8 108.8,592.9 109.0,591.1 109.2,589.2 109.5,587.2 109.7,585.2 109.9,583.2 110.1,581.1 110.4,579.0 110.6,576.8 110.8,574.6 111.0,572.3 111.2,570.0 111.5,567.7 111.7,565.3 111.9,562.9 112.1,560.4 112.4,557.9 112.6,555.3 112.8,552.7 113.0,550.1 113.2,547.4 113.5,544.7 113.7,542.0 113.9,539.2 114.1,536.4 114.4,533.6 114.6,530.7 114.8,527.8 115.0,524.9 115.2,522.0 115.5,519.1 115.7,516.1 115.9,513.2 116.1,510.2 116.4,507.2 116.6,504.2 116.8,501.2 117.0,498.2 117.2,495.2 117.5,492.2 117.7,489.3 117.9,486.3 118.1,483.4 118.3,480.4 118.6,477.5 118.8,474.7 119.0,471.8 119.2,469.0 119.5,466.3 119.7,463.5 119.9,460.9 120.1,458.2 120.3,455.7 120.6,453.1 120.8,450.7 121.0,448.3 121.2,446.0 121.5,443.7 121.7,441.5 121.9,439.5 122.1,437.4 122.3,435.5 122.6,433.7 122.8,431.9 123.0,430.3 123.2,428.7 123.5,427.3 123.7,425.9 123.9,424.7 124.1,423.5 124.3,422.5 124.6,421.6 124.8,420.8 125.0,420.1 125.2,419.5 125.5,419.1 125.7,418.7 125.9,418.5 126.1,418.4 126.3,418.5 126.6,418.6 126.8,418.9 127.0,419.2 127.2,419.7 127.5,420.3 127.7,421.1 127.9,421.9 128.1,422.8 128.3,423.9 128.6,425.1 128.8,426.3 129.0,427.7 129.2,429.2 129.5,430.8 129.7,432.4 129.9,434.2 130.1,436.0 130.3,437.9 130.6,439.9 130.8,442.0 131.0,444.2 131.2,446.4 131.5,448.7 131.7,451.1 131.9,453.5 132.1,455.9 132.3,458.5 132.6,461.0 132.8,463.6 133.0,466.3 133.2,469.0 133.5,471.7 133.7,474.4 133.9,477.2 134.1,480.0 134.3,482.8 134.6,485.6 134.8,488.4 135.0,491.2 135.2,494.1 135.5,496.9 135.7,499.7 135.9,502.6 136.1,505.4 136.3,508.2 136.6,511.0 136.8,513.8 137.0,516.6 137.2,519.3 137.5,522.0 137.7,524.7 137.9,527.4 138.1,530.1 138.3,532.7 138.6,535.3 138.8,537.8 139.0,540.4 139.2,542.9 139.4,545.3 139.7,547.8 139.9,550.2 140.1,552.5 140.3,554.8 140.6,557.1 140.8,559.3 141.0,561.5 141.2,563.6 141.4,565.7 141.7,567.8 141.9,569.8 142.1,571.8 142.3,573.8 142.6,575.7 142.8,577.6 143.0,579.4 143.2,581.2 143.4,583.0 143.7,584.7 143.9,586.4 144.1,588.0 144.3,589.6 144.6,591.2 144.8,592.7 145.0,594.2 145.2,595.6 145.4,597.1 145.7,598.5 145.9,599.8 146.1,601.1 146.3,602.4 146.6,603.7 146.8,604.9 147.0,606.1 147.2,607.2 147.4,608.4 147.7,609.5 147.9,610.6 148.1,611.6 148.3,612.6 148.6,613.6 148.8,614.6 149.0,615.5 149.2,616.4 149.4,617.3 149.7,618.1 149.9,619.0 150.1,619.8 150.3,620.6 150.6,621.3 150.8,622.1 151.0,622.8 151.2,623.5 151.4,624.2 151.7,624.8 151.9,625.5 152.1,626.1 152.3,626.7 152.6,627.3 152.8,627.9 153.0,628.4 153.2,629.0 153.4,629.5 153.7,630.0 153.9,630.5 154.1,630.9 154.3,631.4 154.6,631.9 154.8,632.3 155.0,632.7 155.2,633.1 155.4,633.5 155.7,633.9 155.9,634.3 156.1,634.6 156.3,635.0 156.6,635.3 156.8,635.6 157.0,635.9 157.2,636.2 157.4,636.5 157.7,636.8 157.9,637.1 158.1,637.4 158.3,637.6 158.6,637.9 158.8,638.1 159.0,638.4 159.2,638.6 159.4,638.8 159.7,639.0 159.9,639.2 160.1,639.4 160.3,639.6 160.5,639.8 160.8,640.0 161.0,640.2 161.2,640.3 161.4,640.5 161.7,640.7 161.9,640.8 162.1,641.0 162.3,641.1 162.5,641.2 162.8,641.4 163.0,641.5 163.2,641.6 163.4,641.7 163.7,641.9 163.9,642.0 164.1,642.1 164.3,642.2 164.5,642.3 164.8,642.4 165.0,642.5 165.2,642.6 165.4,642.6 165.7,642.7 165.9,642.8 166.1,642.9 166.3,643.0 166.5,643.0 166.8,643.1 167.0,643.2 167.2,643.2 167.4,643.3 167.7,643.4 167.9,643.4 168.1,643.5 168.3,643.5 168.5,643.6 168.8,643.6 169.0,643.7 169.2,643.7 169.4,643.8 169.7,643.8 169.9,643.8 170.1,643.9 170.3,644.0 170.5,644.0 170.8,644.1 171.0,644.2 171.2,644.2 171.4,644.3 171.7,644.3 171.9,644.4 172.1,644.5 172.3,644.5 172.5,644.6 172.8,644.6 173.0,644.7 173.2,644.7 173.4,644.8 173.7,644.8 173.9,644.9 174.1,644.9 174.3,645.0 174.5,645.0 174.8,645.1 175.0,645.1 175.2,645.2 175.4,645.2 175.7,645.2 175.9,645.3 176.1,645.3 176.3,645.4 176.5,645.4 176.8,645.4 177.0,645.5 177.2,645.5 177.4,645.6 177.7,645.6 177.9,645.6 178.1,645.7 178.3,645.7 178.5,645.7 178.8,645.8 179.0,645.8 179.2,645.8 179.4,645.9 179.6,645.9 179.9,645.9 180.1,646.0 180.3,646.0 180.5,646.0 180.8,646.1 181.0,646.1 181.2,646.1 181.4,646.1 181.6,646.2 181.9,646.2 182.1,646.2 182.3,646.3 182.5,646.3 182.8,646.3 183.0,646.3 183.2,646.4 183.4,646.4 183.6,646.4 183.9,646.5 184.1,646.5 184.3,646.5 184.5,646.5 184.8,646.6 185.0,646.6 185.2,646.6 185.4,646.6 185.6,646.7 185.9,646.7 186.1,646.7 186.3,646.7 186.5,646.8 186.8,646.8 187.0,646.8 187.2,646.8 187.4,646.9 187.6,646.9 187.9,646.9 188.1,646.9 188.3,646.9 188.5,647.0 188.8,647.0 189.0,647.0 189.2,647.0 189.4,647.1 189.6,647.1 189.9,647.1 190.1,647.1 190.3,647.1 190.5,647.1 190.8,647.2 191.0,647.2 191.2,647.2 191.4,647.2 191.6,647.2 191.9,647.2 192.1,647.2 192.3,647.2 192.5,647.3 192.8,647.3 193.0,647.3 193.2,647.3 193.4,647.3 193.6,647.3 193.9,647.3 194.1,647.3 194.3,647.3 194.5,647.4 194.8,647.4 195.0,647.4 195.2,647.4 195.4,647.4 195.6,647.4 195.9,647.4 196.1,647.4 196.3,647.4 196.5,647.5 196.8,647.5 197.0,647.5 197.2,647.5 197.4,647.5 197.6,647.5 197.9,647.5 198.1,647.5 198.3,647.5 198.5,647.6 198.8,647.6 199.0,647.6 199.2,647.6 199.4,647.6 199.6,647.6 199.9,647.6 200.1,647.6 200.3,647.6 200.5,647.6 200.7,647.7 201.0,647.7 201.2,647.7 201.4,647.7 201.6,647.7 201.9,647.7 202.1,647.7 202.3,647.7 202.5,647.7 202.7,647.8 203.0,647.8 203.2,647.8 203.4,647.8 203.6,647.8 203.9,647.8 204.1,647.8 204.3,647.8 204.5,647.8 204.7,647.8 205.0,647.9 205.2,647.9 205.4,647.9 205.6,647.9 205.9,647.9 206.1,647.9 206.3,647.9 206.5,647.9 206.7,647.9 207.0,647.9 207.2,648.0 207.4,648.0 207.6,648.0 207.9,648.0 208.1,648.0 208.3,648.0 208.5,648.0 208.7,648.0 209.0,648.0 209.2,648.0 209.4,648.1 209.6,648.1 209.9,648.1 210.1,648.1 210.3,648.1"/>
<polyline fill="none" stroke="#ffff00" stroke-width="2.4" stroke-linejoin="round" points="55.0,643.7 55.3,643.7 55.5,643.7 55.7,643.8 55.9,643.8 56.2,643.9 56.4,643.9 56.6,643.9 56.8,644.0 57.0,644.0 57.3,644.0 57.5,644.1 57.7,644.1 57.9,644.1 58.2,644.2 58.4,644.2 58.6,644.3 58.8,644.3 59.0,644.3 59.3,644.4 59.5,644.4 59.7,644.4 59.9,644.5 60.2,644.5 60.4,644.5 60.6,644.6 60.8,644.6 61.0,644.7 61.3,644.7 61.5,644.7 61.7,644.8 61.9,644.8 62.2,644.8 62.4,644.9 62.6,644.9 62.8,644.9 63.0,645.0 63.3,645.0 63.5,645.0 63.7,645.1 63.9,645.1 64.2,645.2 64.4,645.2 64.6,645.2 64.8,645.3 65.0,645.3 65.3,645.3 65.5,645.4 65.7,645.4 65.9,645.4 66.2,645.5 66.4,645.5 66.6,645.6 66.8,645.6 67.0,645.6 67.3,645.7 67.5,645.7 67.7,645.7 67.9,645.8 68.2,645.8 68.4,645.8 68.6,645.9 68.8,645.9 69.0,645.9 69.3,646.0 69.5,646.0 69.7,646.0 69.9,646.1 70.2,646.1 70.4,646.1 70.6,646.2 70.8,646.2 71.0,646.2 71.3,646.2 71.5,646.2 71.7,646.2 71.9,646.2 72.2,646.2 72.4,646.2 72.6,646.2 72.8,646.2 73.0,646.2 73.3,646.2 73.5,646.2 73.7,646.2 73.9,646.2 74.2,646.2 74.4,646.2 74.6,646.1 74.8,646.1 75.0,646.1 75.3,646.1 75.5,646.1 75.7,646.1 75.9,646.1 76.1,646.1 76.4,646.1 76.6,646.1 76.8,646.1 77.0,646.1 77.3,646.0 77.5,646.0 77.7,646.0 77.9,646.0 78.1,646.0 78.4,646.0 78.6,646.0 78.8,646.0 79.0,646.0 79.3,646.0 79.5,645.9 79.7,645.9 79.9,645.9 80.1,645.9 80.4,645.9 80.6,645.9 80.8,645.9 81.0,645.8 81.3,645.8 81.5,645.8 81.7,645.8 81.9,645.8 82.1,645.8 82.4,645.7 82.6,645.7 82.8,645.7 83.0,645.7 83.3,645.7 83.5,645.6 83.7,645.6 83.9,645.6 84.1,645.6 84.4,645.6 84.6,645.5 84.8,645.5 85.0,645.5 85.3,645.4 85.5,645.4 85.7,645.4 85.9,645.3 86.1,645.3 86.4,645.3 86.6,645.2 86.8,645.2 87.0,645.2 87.3,645.1 87.5,645.1 87.7,645.0 87.9,645.0 88.1,644.9 88.4,644.9 88.6,644.8 88.8,644.8 89.0,644.7 89.3,644.7 89.5,644.6 89.7,644.5 89.9,644.5 90.1,644.4 90.4,644.3 90.6,644.2 90.8,644.2 91.0,644.1 91.3,644.0 91.5,643.9 91.7,643.8 91.9,643.7 92.1,643.6 92.4,643.5 92.6,643.3 92.8,643.2 93.0,643.1 93.3,643.0 93.5,642.8 93.7,642.7 93.9,642.5 94.1,642.4 94.4,642.2 94.6,642.0 94.8,641.8 95.0,641.6 95.3,641.4 95.5,641.2 95.7,641.0 95.9,640.8 96.1,640.5 96.4,640.3 96.6,640.0 96.8,639.8 97.0,639.5 97.2,639.2 97.5,638.9 97.7,638.6 97.9,638.2 98.1,637.9 98.4,637.5 98.6,637.1 98.8,636.8 99.0,636.3 99.2,635.9 99.5,635.5 99.7,635.0 99.9,634.5 100.1,634.0 100.4,633.5 100.6,633.0 100.8,632.5 101.0,631.9 101.2,631.3 101.5,630.7 101.7,630.0 101.9,629.4 102.1,628.7 102.4,628.0 102.6,627.2 102.8,626.5 103.0,625.7 103.2,624.9 103.5,624.0 103.7,623.1 103.9,622.2 104.1,621.3 104.4,620.3 104.6,619.3 104.8,618.3 105.0,617.2 105.2,616.2 105.5,615.0 105.7,613.9 105.9,612.7 106.1,611.4 106.4,610.2 106.6,608.9 106.8,607.5 107.0,606.1 107.2,604.7 107.5,603.3 107.7,601.8 107.9,600.3 108.1,598.7 108.4,597.1 108.6,595.5 108.8,593.8 109.0,592.1 109.2,590.3 109.5,588.5 109.7,586.7 109.9,584.8 110.1,582.9 110.4,581.0 110.6,579.0 110.8,577.0 111.0,575.0 111.2,572.9 111.5,570.8 111.7,568.6 111.9,566.4 112.1,564.2 112.4,562.0 112.6,559.7 112.8,557.4 113.0,555.1 113.2,552.7 113.5,550.4 113.7,548.0 113.9,545.5 114.1,543.1 114.4,540.6 114.6,538.2 114.8,535.7 115.0,533.2 115.2,530.7 115.5,528.2 115.7,525.6 115.9,523.1 116.1,520.6 116.4,518.1 116.6,515.5 116.8,513.0 117.0,510.5 117.2,508.0 117.5,505.5 117.7,503.1 117.9,500.6 118.1,498.2 118.3,495.8 118.6,493.5 118.8,491.1 119.0,488.9 119.2,486.6 119.5,484.4 119.7,482.2 119.9,480.1 120.1,478.0 120.3,476.0 120.6,474.1 120.8,472.2 121.0,470.3 121.2,468.6 121.5,466.8 121.7,465.2 121.9,463.7 122.1,462.2 122.3,460.8 122.6,459.5 122.8,458.2 123.0,457.1 123.2,456.0 123.5,455.0 123.7,454.2 123.9,453.4 124.1,452.7 124.3,452.1 124.6,451.6 124.8,451.2 125.0,450.9 125.2,450.7 125.5,450.6 125.7,450.6 125.9,450.6 126.1,450.8 126.3,451.1 126.6,451.5 126.8,451.9 127.0,452.5 127.2,453.2 127.5,453.9 127.7,454.7 127.9,455.7 128.1,456.7 128.3,457.8 128.6,458.9 128.8,460.2 129.0,461.5 129.2,462.9 129.5,464.4 129.7,466.0 129.9,467.6 130.1,469.3 130.3,471.0 130.6,472.8 130.8,474.7 131.0,476.6 131.2,478.6 131.5,480.6 131.7,482.6 131.9,484.7 132.1,486.9 132.3,489.0 132.6,491.2 132.8,493.5 133.0,495.7 133.2,498.0 133.5,500.3 133.7,502.6 133.9,504.9 134.1,507.3 134.3,509.6 134.6,512.0 134.8,514.4 135.0,516.7 135.2,519.1 135.5,521.5 135.7,523.8 135.9,526.2 136.1,528.5 136.3,530.8 136.6,533.2 136.8,535.5 137.0,537.8 137.2,540.0 137.5,542.3 137.7,544.5 137.9,546.7 138.1,548.9 138.3,551.1 138.6,553.2 138.8,555.3 139.0,557.4 139.2,559.4 139.4,561.5 139.7,563.5 139.9,565.4 140.1,567.4 140.3,569.3 140.6,571.1 140.8,573.0 141.0,574.8 141.2,576.6 141.4,578.3 141.7,580.0 141.9,581.7 142.1,583.4 142.3,585.0 142.6,586.6 142.8,588.1 143.0,589.6 143.2,591.1 143.4,592.6 143.7,594.0 143.9,595.4 144.1,596.8 144.3,598.1 144.6,599.4 144.8,600.7 145.0,601.9 145.2,603.2 145.4,604.4 145.7,605.5 145.9,606.6 146.1,607.8 146.3,608.8 146.6,609.9 146.8,610.9 147.0,611.9 147.2,612.9 147.4,613.8 147.7,614.8 147.9,615.7 148.1,616.6 148.3,617.4 148.6,618.3 148.8,619.1 149.0,619.9 149.2,620.6 149.4,621.4 149.7,622.1 149.9,622.8 150.1,623.5 150.3,624.2 150.6,624.9 150.8,625.5 151.0,626.1 151.2,626.7 151.4,627.3 151.7,627.9 151.9,628.4 152.1,629.0 152.3,629.5 152.6,630.0 152.8,630.5 153.0,631.0 153.2,631.4 153.4,631.9 153.7,632.3 153.9,632.8 154.1,633.2 154.3,633.6 154.6,634.0 154.8,634.4 155.0,634.7 155.2,635.1 155.4,635.4 155.7,635.8 155.9,636.1 156.1,636.4 156.3,636.7 156.6,637.0 156.8,637.3 157.0,637.6 157.2,637.9 157.4,638.2 157.7,638.4 157.9,638.7 158.1,638.9 158.3,639.1 158.6,639.4 158.8,639.6 159.0,639.8 159.2,640.0 159.4,640.2 159.7,640.4 159.9,640.6 160.1,640.8 160.3,641.0 160.5,641.1 160.8,641.3 161.0,641.5 161.2,641.6 161.4,641.8 161.7,641.9 161.9,642.1 162.1,642.2 162.3,642.4 162.5,642.5 162.8,642.6 163.0,642.7 163.2,642.9 163.4,643.0 163.7,643.1 163.9,643.2 164.1,643.3 164.3,643.4 164.5,643.5 164.8,643.6 165.0,643.7 165.2,643.8 165.4,643.9 165.7,644.0 165.9,644.1 166.1,644.1 166.3,644.2 166.5,644.3 166.8,644.4 167.0,644.4 167.2,644.5 167.4,644.6 167.7,644.6 167.9,644.7 168.1,644.7 168.3,644.8 168.5,644.9 168.8,644.9 169.0,645.0 169.2,645.0 169.4,645.1 169.7,645.1 169.9,645.2 170.1,645.2 170.3,645.3 170.5,645.3 170.8,645.4 171.0,645.5 171.2,645.5 171.4,645.6 171.7,645.6 171.9,645.7 172.1,645.7 172.3,645.8 172.5,645.8 172.8,645.9 173.0,645.9 173.2,646.0 173.4,646.0 173.7,646.1 173.9,646.1 174.1,646.1 174.3,646.2 174.5,646.2 174.8,646.3 175.0,646.3 175.2,646.4 175.4,646.4 175.7,646.4 175.9,646.5 176.1,646.5 176.3,646.5 176.5,646.6 176.8,646.6 177.0,646.6 177.2,646.7 177.4,646.7 177.7,646.7 177.9,646.8 178.1,646.8 178.3,646.8 178.5,646.9 178.8,646.9 179.0,646.9 179.2,647.0 179.4,647.0 179.6,647.0 179.9,647.0 180.1,647.1 180.3,647.1 180.5,647.1 180.8,647.1 181.0,647.2 181.2,647.2 181.4,647.2 181.6,647.3 181.9,647.3 182.1,647.3 182.3,647.3 182.5,647.4 182.8,647.4 183.0,647.4 183.2,647.4 183.4,647.4 183.6,647.5 183.9,647.5 184.1,647.5 184.3,647.5 184.5,647.6 184.8,647.6 185.0,647.6 185.2,647.6 185.4,647.6 185.6,647.7 185.9,647.7 186.1,647.7 186.3,647.7 186.5,647.8 186.8,647.8 187.0,647.8 187.2,647.8 187.4,647.8 187.6,647.9 187.9,647.9 188.1,647.9 188.3,647.9 188.5,647.9 188.8,648.0 189.0,648.0 189.2,648.0 189.4,648.0 189.6,648.0 189.9,648.1 190.1,648.1 190.3,648.1 190.5,648.1 190.8,648.1 191.0,648.1 191.2,648.1 191.4,648.1 191.6,648.1 191.9,648.2 192.1,648.2 192.3,648.2 192.5,648.2 192.8,648.2 193.0,648.2 193.2,648.2 193.4,648.2 193.6,648.2 193.9,648.2 194.1,648.3 194.3,648.3 194.5,648.3 194.8,648.3 195.0,648.3 195.2,648.3 195.4,648.3 195.6,648.3 195.9,648.3 196.1,648.3 196.3,648.3 196.5,648.4 196.8,648.4 197.0,648.4 197.2,648.4 197.4,648.4 197.6,648.4 197.9,648.4 198.1,648.4 198.3,648.4 198.5,648.4 198.8,648.4 199.0,648.5 199.2,648.5 199.4,648.5 199.6,648.5 199.9,648.5 200.1,648.5 200.3,648.5 200.5,648.5 200.7,648.5 201.0,648.5 201.2,648.5 201.4,648.6 201.6,648.6 201.9,648.6 202.1,648.6 202.3,648.6 202.5,648.6 202.7,648.6 203.0,648.6 203.2,648.6 203.4,648.6 203.6,648.6 203.9,648.6 204.1,648.7 204.3,648.7 204.5,648.7 204.7,648.7 205.0,648.7 205.2,648.7 205.4,648.7 205.6,648.7 205.9,648.7 206.1,648.7 206.3,648.7 206.5,648.7 206.7,648.8 207.0,648.8 207.2,648.8 207.4,648.8 207.6,648.8 207.9,648.8 208.1,648.8 208.3,648.8 208.5,648.8 208.7,648.8 209.0,648.8 209.2,648.8 209.4,648.9 209.6,648.9 209.9,648.9 210.1,648.9 210.3,648.9"/>
<polyline fill="none" stroke="#ff66cc" stroke-width="2.4" stroke-linejoin="round" points="55.0,645.5 55.3,645.6 55.5,645.6 55.7,645.6 55.9,645.7 56.2,645.7 56.4,645.7 56.6,645.8 56.8,645.8 57.0,645.8 57.3,645.9 57.5,645.9 57.7,646.0 57.9,646.0 58.2,646.0 58.4,646.1 58.6,646.1 58.8,646.1 59.0,646.2 59.3,646.2 59.5,646.2 59.7,646.3 59.9,646.3 60.2,646.4 60.4,646.4 60.6,646.4 60.8,646.5 61.0,646.5 61.3,646.5 61.5,646.6 61.7,646.6 61.9,646.6 62.2,646.7 62.4,646.7 62.6,646.8 62.8,646.8 63.0,646.8 63.3,646.9 63.5,646.9 63.7,646.9 63.9,647.0 64.2,647.0 64.4,647.0 64.6,647.1 64.8,647.1 65.0,647.1 65.3,647.2 65.5,647.2 65.7,647.3 65.9,647.3 66.2,647.3 66.4,647.4 66.6,647.4 66.8,647.4 67.0,647.5 67.3,647.5 67.5,647.5 67.7,647.6 67.9,647.6 68.2,647.6 68.4,647.7 68.6,647.7 68.8,647.8 69.0,647.8 69.3,647.8 69.5,647.9 69.7,647.9 69.9,647.9 70.2,648.0 70.4,648.0 70.6,648.0 70.8,648.1 71.0,648.1 71.3,648.1 71.5,648.1 71.7,648.1 71.9,648.1 72.2,648.1 72.4,648.1 72.6,648.0 72.8,648.0 73.0,648.0 73.3,648.0 73.5,648.0 73.7,648.0 73.9,648.0 74.2,648.0 74.4,648.0 74.6,648.0 74.8,648.0 75.0,648.0 75.3,648.0 75.5,648.0 75.7,648.0 75.9,647.9 76.1,647.9 76.4,647.9 76.6,647.9 76.8,647.9 77.0,647.9 77.3,647.9 77.5,647.9 77.7,647.9 77.9,647.9 78.1,647.8 78.4,647.8 78.6,647.8 78.8,647.8 79.0,647.8 79.3,647.8 79.5,647.8 79.7,647.8 79.9,647.7 80.1,647.7 80.4,647.7 80.6,647.7 80.8,647.7 81.0,647.7 81.3,647.7 81.5,647.6 81.7,647.6 81.9,647.6 82.1,647.6 82.4,647.6 82.6,647.5 82.8,647.5 83.0,647.5 83.3,647.5 83.5,647.5 83.7,647.4 83.9,647.4 84.1,647.4 84.4,647.4 84.6,647.3 84.8,647.3 85.0,647.3 85.3,647.2 85.5,647.2 85.7,647.2 85.9,647.1 86.1,647.1 86.4,647.1 86.6,647.0 86.8,647.0 87.0,646.9 87.3,646.9 87.5,646.8 87.7,646.8 87.9,646.7 88.1,646.7 88.4,646.6 88.6,646.6 88.8,646.5 89.0,646.4 89.3,646.4 89.5,646.3 89.7,646.2 89.9,646.1 90.1,646.1 90.4,646.0 90.6,645.9 90.8,645.8 91.0,645.7 91.3,645.6 91.5,645.5 91.7,645.4 91.9,645.2 92.1,645.1 92.4,645.0 92.6,644.9 92.8,644.7 93.0,644.6 93.3,644.4 93.5,644.3 93.7,644.1 93.9,643.9 94.1,643.7 94.4,643.5 94.6,643.3 94.8,643.1 95.0,642.9 95.3,642.6 95.5,642.4 95.7,642.1 95.9,641.9 96.1,641.6 96.4,641.3 96.6,641.0 96.8,640.7 97.0,640.3 97.2,640.0 97.5,639.6 97.7,639.2 97.9,638.8 98.1,638.4 98.4,638.0 98.6,637.5 98.8,637.1 99.0,636.6 99.2,636.1 99.5,635.5 99.7,635.0 99.9,634.4 100.1,633.8 100.4,633.2 100.6,632.5 100.8,631.9 101.0,631.2 101.2,630.4 101.5,629.7 101.7,628.9 101.9,628.1 102.1,627.3 102.4,626.4 102.6,625.5 102.8,624.5 103.0,623.5 103.2,622.5 103.5,621.5 103.7,620.4 103.9,619.3 104.1,618.1 104.4,616.9 104.6,615.7 104.8,614.4 105.0,613.1 105.2,611.7 105.5,610.3 105.7,608.9 105.9,607.4 106.1,605.9 106.4,604.3 106.6,602.7 106.8,601.0 107.0,599.3 107.2,597.5 107.5,595.7 107.7,593.9 107.9,592.0 108.1,590.0 108.4,588.0 108.6,586.0 108.8,583.9 109.0,581.8 109.2,579.6 109.5,577.3 109.7,575.1 109.9,572.7 110.1,570.4 110.4,568.0 110.6,565.5 110.8,563.0 111.0,560.4 111.2,557.9 111.5,555.2 111.7,552.6 111.9,549.9 112.1,547.1 112.4,544.3 112.6,541.5 112.8,538.7 113.0,535.8 113.2,532.9 113.5,530.0 113.7,527.0 113.9,524.1 114.1,521.1 114.4,518.0 114.6,515.0 114.8,512.0 115.0,508.9 115.2,505.9 115.5,502.8 115.7,499.8 115.9,496.7 116.1,493.7 116.4,490.6 116.6,487.6 116.8,484.6 117.0,481.6 117.2,478.6 117.5,475.7 117.7,472.8 117.9,469.9 118.1,467.1 118.3,464.3 118.6,461.5 118.8,458.8 119.0,456.2 119.2,453.6 119.5,451.1 119.7,448.7 119.9,446.3 120.1,444.0 120.3,441.7 120.6,439.6 120.8,437.5 121.0,435.6 121.2,433.7 121.5,431.9 121.7,430.2 121.9,428.6 122.1,427.2 122.3,425.8 122.6,424.5 122.8,423.4 123.0,422.4 123.2,421.5 123.5,420.7 123.7,420.0 123.9,419.4 124.1,419.0 124.3,418.7 124.6,418.5 124.8,418.4 125.0,418.5 125.2,418.7 125.5,419.0 125.7,419.4 125.9,420.0 126.1,420.6 126.3,421.4 126.6,422.3 126.8,423.4 127.0,424.5 127.2,425.8 127.5,427.1 127.7,428.6 127.9,430.2 128.1,431.8 128.3,433.6 128.6,435.5 128.8,437.4 129.0,439.5 129.2,441.6 129.5,443.8 129.7,446.1 129.9,448.4 130.1,450.8 130.3,453.3 130.6,455.8 130.8,458.4 131.0,461.0 131.2,463.7 131.5,466.4 131.7,469.1 131.9,471.9 132.1,474.7 132.3,477.6 132.6,480.4 132.8,483.3 133.0,486.2 133.2,489.1 133.5,492.0 133.7,494.9 133.9,497.9 134.1,500.8 134.3,503.7 134.6,506.6 134.8,509.4 135.0,512.3 135.2,515.2 135.5,518.0 135.7,520.8 135.9,523.6 136.1,526.4 136.3,529.1 136.6,531.8 136.8,534.5 137.0,537.1 137.2,539.8 137.5,542.3 137.7,544.9 137.9,547.4 138.1,549.9 138.3,552.3 138.6,554.7 138.8,557.1 139.0,559.4 139.2,561.6 139.4,563.9 139.7,566.1 139.9,568.2 140.1,570.3 140.3,572.4 140.6,574.4 140.8,576.4 141.0,578.3 141.2,580.2 141.4,582.1 141.7,583.9 141.9,585.7 142.1,587.4 142.3,589.1 142.6,590.8 142.8,592.4 143.0,594.0 143.2,595.5 143.4,597.0 143.7,598.5 143.9,599.9 144.1,601.3 144.3,602.6 144.6,604.0 144.8,605.3 145.0,606.5 145.2,607.7 145.4,608.9 145.7,610.1 145.9,611.2 146.1,612.3 146.3,613.4 146.6,614.4 146.8,615.4 147.0,616.4 147.2,617.4 147.4,618.3 147.7,619.2 147.9,620.1 148.1,620.9 148.3,621.7 148.6,622.6 148.8,623.3 149.0,624.1 149.2,624.8 149.4,625.5 149.7,626.2 149.9,626.9 150.1,627.6 150.3,628.2 150.6,628.8 150.8,629.4 151.0,630.0 151.2,630.5 151.4,631.1 151.7,631.6 151.9,632.1 152.1,632.6 152.3,633.1 152.6,633.6 152.8,634.0 153.0,634.5 153.2,634.9 153.4,635.3 153.7,635.7 153.9,636.1 154.1,636.5 154.3,636.8 154.6,637.2 154.8,637.5 155.0,637.9 155.2,638.2 155.4,638.5 155.7,638.8 155.9,639.1 156.1,639.4 156.3,639.6 156.6,639.9 156.8,640.2 157.0,640.4 157.2,640.6 157.4,640.9 157.7,641.1 157.9,641.3 158.1,641.5 158.3,641.7 158.6,641.9 158.8,642.1 159.0,642.3 159.2,642.5 159.4,642.7 159.7,642.8 159.9,643.0 160.1,643.1 160.3,643.3 160.5,643.4 160.8,643.6 161.0,643.7 161.2,643.8 161.4,644.0 161.7,644.1 161.9,644.2 162.1,644.3 162.3,644.4 162.5,644.6 162.8,644.7 163.0,644.8 163.2,644.9 163.4,645.0 163.7,645.0 163.9,645.1 164.1,645.2 164.3,645.3 164.5,645.4 164.8,645.5 165.0,645.5 165.2,645.6 165.4,645.7 165.7,645.7 165.9,645.8 166.1,645.9 166.3,645.9 166.5,646.0 166.8,646.0 167.0,646.1 167.2,646.2 167.4,646.2 167.7,646.3 167.9,646.3 168.1,646.3 168.3,646.4 168.5,646.4 168.8,646.5 169.0,646.5 169.2,646.6 169.4,646.6 169.7,646.6 169.9,646.7 170.1,646.7 170.3,646.8 170.5,646.8 170.8,646.8 171.0,646.9 171.2,646.9 171.4,647.0 171.7,647.0 171.9,647.1 172.1,647.1 172.3,647.1 172.5,647.2 172.8,647.2 173.0,647.3 173.2,647.3 173.4,647.3 173.7,647.4 173.9,647.4 174.1,647.4 174.3,647.5 174.5,647.5 174.8,647.5 175.0,647.6 175.2,647.6 175.4,647.6 175.7,647.7 175.9,647.7 176.1,647.7 176.3,647.7 176.5,647.8 176.8,647.8 177.0,647.8 177.2,647.9 177.4,647.9 177.7,647.9 177.9,647.9 178.1,648.0 178.3,648.0 178.5,648.0 178.8,648.0 179.0,648.0 179.2,648.1 179.4,648.1 179.6,648.1 179.9,648.1 180.1,648.2 180.3,648.2 180.5,648.2 180.8,648.2 181.0,648.2 181.2,648.3 181.4,648.3 181.6,648.3 181.9,648.3 182.1,648.3 182.3,648.4 182.5,648.4 182.8,648.4 183.0,648.4 183.2,648.4 183.4,648.5 183.6,648.5 183.9,648.5 184.1,648.5 184.3,648.5 184.5,648.6 184.8,648.6 185.0,648.6 185.2,648.6 185.4,648.6 185.6,648.6 185.9,648.7 186.1,648.7 186.3,648.7 186.5,648.7 186.8,648.7 187.0,648.7 187.2,648.8 187.4,648.8 187.6,648.8 187.9,648.8 188.1,648.8 188.3,648.8 188.5,648.8 188.8,648.9 189.0,648.9 189.2,648.9 189.4,648.9 189.6,648.9 189.9,648.9 190.1,649.0 190.3,649.0 190.5,649.0 190.8,649.0 191.0,649.0 191.2,649.0 191.4,649.0 191.6,649.0 191.9,649.0 192.1,649.0 192.3,649.0 192.5,649.0 192.8,649.1 193.0,649.1 193.2,649.1 193.4,649.1 193.6,649.1 193.9,649.1 194.1,649.1 194.3,649.1 194.5,649.1 194.8,649.1 195.0,649.1 195.2,649.1 195.4,649.1 195.6,649.2 195.9,649.2 196.1,649.2 196.3,649.2 196.5,649.2 196.8,649.2 197.0,649.2 197.2,649.2 197.4,649.2 197.6,649.2 197.9,649.2 198.1,649.2 198.3,649.2 198.5,649.2 198.8,649.3 199.0,649.3 199.2,649.3 199.4,649.3 199.6,649.3 199.9,649.3 200.1,649.3 200.3,649.3 200.5,649.3 200.7,649.3 201.0,649.3 201.2,649.3 201.4,649.3 201.6,649.3 201.9,649.4 202.1,649.4 202.3,649.4 202.5,649.4 202.7,649.4 203.0,649.4 203.2,649.4 203.4,649.4 203.6,649.4 203.9,649.4 204.1,649.4 204.3,649.4 204.5,649.4 204.7,649.4 205.0,649.5 205.2,649.5 205.4,649.5 205.6,649.5 205.9,649.5 206.1,649.5 206.3,649.5 206.5,649.5 206.7,649.5 207.0,649.5 207.2,649.5 207.4,649.5 207.6,649.5 207.9,649.5 208.1,649.5 208.3,649.6 208.5,649.6 208.7,649.6 209.0,649.6 209.2,649.6 209.4,649.6 209.6,649.6 209.9,649.6 210.1,649.6 210.3,649.6"/>
<polyline fill="none" stroke="#00ff00" stroke-width="2.4" stroke-linejoin="round" points="55.0,642.9 55.3,642.9 55.5,642.9 55.7,643.0 55.9,643.0 56.2,643.0 56.4,643.1 56.6,643.1 56.8,643.2 57.0,643.2 57.3,643.2 57.5,643.3 57.7,643.3 57.9,643.3 58.2,643.4 58.4,643.4 58.6,643.4 58.8,643.5 59.0,643.5 59.3,643.6 59.5,643.6 59.7,643.6 59.9,643.7 60.2,643.7 60.4,643.7 60.6,643.8 60.8,643.8 61.0,643.8 61.3,643.9 61.5,643.9 61.7,644.0 61.9,644.0 62.2,644.0 62.4,644.1 62.6,644.1 62.8,644.1 63.0,644.2 63.3,644.2 63.5,644.2 63.7,644.3 63.9,644.3 64.2,644.4 64.4,644.4 64.6,644.4 64.8,644.5 65.0,644.5 65.3,644.5 65.5,644.6 65.7,644.6 65.9,644.6 66.2,644.7 66.4,644.7 66.6,644.7 66.8,644.8 67.0,644.8 67.3,644.9 67.5,644.9 67.7,644.9 67.9,645.0 68.2,645.0 68.4,645.0 68.6,645.1 68.8,645.1 69.0,645.1 69.3,645.2 69.5,645.2 69.7,645.2 69.9,645.3 70.2,645.3 70.4,645.3 70.6,645.4 70.8,645.4 71.0,645.4 71.3,645.4 71.5,645.4 71.7,645.4 71.9,645.4 72.2,645.4 72.4,645.4 72.6,645.4 72.8,645.4 73.0,645.4 73.3,645.4 73.5,645.4 73.7,645.4 73.9,645.4 74.2,645.4 74.4,645.3 74.6,645.3 74.8,645.3 75.0,645.3 75.3,645.3 75.5,645.3 75.7,645.3 75.9,645.3 76.1,645.3 76.4,645.3 76.6,645.3 76.8,645.3 77.0,645.2 77.3,645.2 77.5,645.2 77.7,645.2 77.9,645.2 78.1,645.2 78.4,645.2 78.6,645.2 78.8,645.2 79.0,645.2 79.3,645.1 79.5,645.1 79.7,645.1 79.9,645.1 80.1,645.1 80.4,645.1 80.6,645.1 80.8,645.1 81.0,645.0 81.3,645.0 81.5,645.0 81.7,645.0 81.9,645.0 82.1,645.0 82.4,644.9 82.6,644.9 82.8,644.9 83.0,644.9 83.3,644.9 83.5,644.8 83.7,644.8 83.9,644.8 84.1,644.8 84.4,644.7 84.6,644.7 84.8,644.7 85.0,644.7 85.3,644.6 85.5,644.6 85.7,644.6 85.9,644.5 86.1,644.5 86.4,644.5 86.6,644.4 86.8,644.4 87.0,644.4 87.3,644.3 87.5,644.3 87.7,644.2 87.9,644.2 88.1,644.2 88.4,644.1 88.6,644.1 88.8,644.0 89.0,643.9 89.3,643.9 89.5,643.8 89.7,643.8 89.9,643.7 90.1,643.6 90.4,643.6 90.6,643.5 90.8,643.4 91.0,643.3 91.3,643.2 91.5,643.1 91.7,643.1 91.9,643.0 92.1,642.9 92.4,642.8 92.6,642.6 92.8,642.5 93.0,642.4 93.3,642.3 93.5,642.2 93.7,642.0 93.9,641.9 94.1,641.7 94.4,641.6 94.6,641.4 94.8,641.3 95.0,641.1 95.3,640.9 95.5,640.7 95.7,640.5 95.9,640.3 96.1,640.1 96.4,639.9 96.6,639.7 96.8,639.4 97.0,639.2 97.2,638.9 97.5,638.6 97.7,638.4 97.9,638.1 98.1,637.8 98.4,637.4 98.6,637.1 98.8,636.8 99.0,636.4 99.2,636.1 99.5,635.7 99.7,635.3 99.9,634.9 100.1,634.5 100.4,634.0 100.6,633.6 100.8,633.1 101.0,632.7 101.2,632.2 101.5,631.7 101.7,631.1 101.9,630.6 102.1,630.0 102.4,629.4 102.6,628.8 102.8,628.2 103.0,627.5 103.2,626.9 103.5,626.2 103.7,625.5 103.9,624.7 104.1,624.0 104.4,623.2 104.6,622.4 104.8,621.6 105.0,620.7 105.2,619.8 105.5,618.9 105.7,618.0 105.9,617.0 106.1,616.1 106.4,615.1 106.6,614.0 106.8,613.0 107.0,611.9 107.2,610.8 107.5,609.6 107.7,608.5 107.9,607.3 108.1,606.1 108.4,604.8 108.6,603.5 108.8,602.2 109.0,600.9 109.2,599.5 109.5,598.1 109.7,596.7 109.9,595.3 110.1,593.8 110.4,592.3 110.6,590.8 110.8,589.3 111.0,587.7 111.2,586.1 111.5,584.5 111.7,582.8 111.9,581.2 112.1,579.5 112.4,577.8 112.6,576.1 112.8,574.3 113.0,572.5 113.2,570.7 113.5,568.9 113.7,567.1 113.9,565.3 114.1,563.4 114.4,561.6 114.6,559.7 114.8,557.8 115.0,555.9 115.2,554.0 115.5,552.1 115.7,550.2 115.9,548.3 116.1,546.4 116.4,544.5 116.6,542.6 116.8,540.6 117.0,538.7 117.2,536.9 117.5,535.0 117.7,533.1 117.9,531.2 118.1,529.4 118.3,527.6 118.6,525.8 118.8,524.0 119.0,522.2 119.2,520.5 119.5,518.8 119.7,517.1 119.9,515.5 120.1,513.9 120.3,512.3 120.6,510.8 120.8,509.3 121.0,507.8 121.2,506.4 121.5,505.1 121.7,503.8 121.9,502.5 122.1,501.3 122.3,500.2 122.6,499.1 122.8,498.0 123.0,497.1 123.2,496.1 123.5,495.3 123.7,494.5 123.9,493.8 124.1,493.1 124.3,492.5 124.6,492.0 124.8,491.6 125.0,491.2 125.2,490.9 125.5,490.7 125.7,490.5 125.9,490.4 126.1,490.4 126.3,490.4 126.6,490.5 126.8,490.7 127.0,491.0 127.2,491.3 127.5,491.7 127.7,492.1 127.9,492.6 128.1,493.2 128.3,493.9 128.6,494.6 128.8,495.3 129.0,496.2 129.2,497.1 129.5,498.0 129.7,499.0 129.9,500.1 130.1,501.2 130.3,502.3 130.6,503.5 130.8,504.8 131.0,506.1 131.2,507.4 131.5,508.8 131.7,510.2 131.9,511.7 132.1,513.1 132.3,514.7 132.6,516.2 132.8,517.8 133.0,519.4 133.2,521.0 133.5,522.7 133.7,524.4 133.9,526.1 134.1,527.8 134.3,529.5 134.6,531.3 134.8,533.0 135.0,534.8 135.2,536.5 135.5,538.3 135.7,540.1 135.9,541.9 136.1,543.6 136.3,545.4 136.6,547.2 136.8,549.0 137.0,550.7 137.2,552.5 137.5,554.2 137.7,556.0 137.9,557.7 138.1,559.4 138.3,561.2 138.6,562.8 138.8,564.5 139.0,566.2 139.2,567.8 139.4,569.5 139.7,571.1 139.9,572.7 140.1,574.3 140.3,575.8 140.6,577.4 140.8,578.9 141.0,580.4 141.2,581.9 141.4,583.3 141.7,584.7 141.9,586.1 142.1,587.5 142.3,588.9 142.6,590.2 142.8,591.6 143.0,592.9 143.2,594.1 143.4,595.4 143.7,596.6 143.9,597.8 144.1,599.0 144.3,600.2 144.6,601.3 144.8,602.4 145.0,603.5 145.2,604.6 145.4,605.6 145.7,606.7 145.9,607.7 146.1,608.7 146.3,609.6 146.6,610.6 146.8,611.5 147.0,612.4 147.2,613.3 147.4,614.1 147.7,615.0 147.9,615.8 148.1,616.6 148.3,617.4 148.6,618.2 148.8,618.9 149.0,619.7 149.2,620.4 149.4,621.1 149.7,621.8 149.9,622.4 150.1,623.1 150.3,623.7 150.6,624.3 150.8,624.9 151.0,625.5 151.2,626.1 151.4,626.6 151.7,627.2 151.9,627.7 152.1,628.2 152.3,628.7 152.6,629.2 152.8,629.7 153.0,630.2 153.2,630.6 153.4,631.1 153.7,631.5 153.9,631.9 154.1,632.3 154.3,632.7 154.6,633.1 154.8,633.5 155.0,633.9 155.2,634.2 155.4,634.6 155.7,634.9 155.9,635.2 156.1,635.5 156.3,635.9 156.6,636.2 156.8,636.5 157.0,636.7 157.2,637.0 157.4,637.3 157.7,637.6 157.9,637.8 158.1,638.1 158.3,638.3 158.6,638.5 158.8,638.8 159.0,639.0 159.2,639.2 159.4,639.4 159.7,639.6 159.9,639.8 160.1,640.0 160.3,640.2 160.5,640.4 160.8,640.6 161.0,640.8 161.2,640.9 161.4,641.1 161.7,641.3 161.9,641.4 162.1,641.6 162.3,641.7 162.5,641.9 162.8,642.0 163.0,642.1 163.2,642.3 163.4,642.4 163.7,642.5 163.9,642.6 164.1,642.8 164.3,642.9 164.5,643.0 164.8,643.1 165.0,643.2 165.2,643.3 165.4,643.4 165.7,643.5 165.9,643.6 166.1,643.7 166.3,643.8 166.5,643.8 166.8,643.9 167.0,644.0 167.2,644.1 167.4,644.2 167.7,644.2 167.9,644.3 168.1,644.4 168.3,644.5 168.5,644.5 168.8,644.6 169.0,644.7 169.2,644.7 169.4,644.8 169.7,644.8 169.9,644.9 170.1,645.0 170.3,645.0 170.5,645.1 170.8,645.1 171.0,645.2 171.2,645.3 171.4,645.3 171.7,645.4 171.9,645.4 172.1,645.5 172.3,645.6 172.5,645.6 172.8,645.7 173.0,645.7 173.2,645.8 173.4,645.8 173.7,645.9 173.9,645.9 174.1,646.0 174.3,646.0 174.5,646.1 174.8,646.1 175.0,646.1 175.2,646.2 175.4,646.2 175.7,646.3 175.9,646.3 176.1,646.3 176.3,646.4 176.5,646.4 176.8,646.5 177.0,646.5 177.2,646.5 177.4,646.6 177.7,646.6 177.9,646.6 178.1,646.7 178.3,646.7 178.5,646.7 178.8,646.8 179.0,646.8 179.2,646.8 179.4,646.9 179.6,646.9 179.9,646.9 180.1,647.0 180.3,647.0 180.5,647.0 180.8,647.1 181.0,647.1 181.2,647.1 181.4,647.1 181.6,647.2 181.9,647.2 182.1,647.2 182.3,647.2 182.5,647.3 182.8,647.3 183.0,647.3 183.2,647.4 183.4,647.4 183.6,647.4 183.9,647.4 184.1,647.5 184.3,647.5 184.5,647.5 184.8,647.5 185.0,647.5 185.2,647.6 185.4,647.6 185.6,647.6 185.9,647.6 186.1,647.7 186.3,647.7 186.5,647.7 186.8,647.7 187.0,647.7 187.2,647.8 187.4,647.8 187.6,647.8 187.9,647.8 188.1,647.9 188.3,647.9 188.5,647.9 188.8,647.9 189.0,647.9 189.2,648.0 189.4,648.0 189.6,648.0 189.9,648.0 190.1,648.0 190.3,648.0 190.5,648.1 190.8,648.1 191.0,648.1 191.2,648.1 191.4,648.1 191.6,648.1 191.9,648.1 192.1,648.1 192.3,648.1 192.5,648.2 192.8,648.2 193.0,648.2 193.2,648.2 193.4,648.2 193.6,648.2 193.9,648.2 194.1,648.2 194.3,648.2 194.5,648.3 194.8,648.3 195.0,648.3 195.2,648.3 195.4,648.3 195.6,648.3 195.9,648.3 196.1,648.3 196.3,648.3 196.5,648.3 196.8,648.4 197.0,648.4 197.2,648.4 197.4,648.4 197.6,648.4 197.9,648.4 198.1,648.4 198.3,648.4 198.5,648.4 198.8,648.4 199.0,648.4 199.2,648.5 199.4,648.5 199.6,648.5 199.9,648.5 200.1,648.5 200.3,648.5 200.5,648.5 200.7,648.5 201.0,648.5 201.2,648.5 201.4,648.5 201.6,648.6 201.9,648.6 202.1,648.6 202.3,648.6 202.5,648.6 202.7,648.6 203.0,648.6 203.2,648.6 203.4,648.6 203.6,648.6 203.9,648.6 204.1,648.6 204.3,648.7 204.5,648.7 204.7,648.7 205.0,648.7 205.2,648.7 205.4,648.7 205.6,648.7 205.9,648.7 206.1,648.7 206.3,648.7 206.5,648.7 206.7,648.8 207.0,648.8 207.2,648.8 207.4,648.8 207.6,648.8 207.9,648.8 208.1,648.8 208.3,648.8 208.5,648.8 208.7,648.8 209.0,648.8 209.2,648.8 209.4,648.9 209.6,648.9 209.9,648.9 210.1,648.9 210.3,648.9"/>
<polyline fill="none" stroke="#cc3300" stroke-width="2.4" stroke-linejoin="round" points="55.0,640.1 55.3,640.1 55.5,640.1 55.7,640.2 55.9,640.2 56.2,640.2 56.4,640.3 56.6,640.3 56.8,640.3 57.0,640.4 57.3,640.4 57.5,640.5 57.7,640.5 57.9,640.5 58.2,640.6 58.4,640.6 58.6,640.6 58.8,640.7 59.0,640.7 59.3,640.7 59.5,640.8 59.7,640.8 59.9,640.9 60.2,640.9 60.4,640.9 60.6,641.0 60.8,641.0 61.0,641.0 61.3,641.1 61.5,641.1 61.7,641.1 61.9,641.2 62.2,641.2 62.4,641.3 62.6,641.3 62.8,641.3 63.0,641.4 63.3,641.4 63.5,641.4 63.7,641.5 63.9,641.5 64.2,641.5 64.4,641.6 64.6,641.6 64.8,641.6 65.0,641.7 65.3,641.7 65.5,641.8 65.7,641.8 65.9,641.8 66.2,641.9 66.4,641.9 66.6,641.9 66.8,642.0 67.0,642.0 67.3,642.0 67.5,642.1 67.7,642.1 67.9,642.1 68.2,642.2 68.4,642.2 68.6,642.3 68.8,642.3 69.0,642.3 69.3,642.4 69.5,642.4 69.7,642.4 69.9,642.5 70.2,642.5 70.4,642.5 70.6,642.6 70.8,642.6 71.0,642.6 71.3,642.6 71.5,642.6 71.7,642.6 71.9,642.6 72.2,642.6 72.4,642.6 72.6,642.6 72.8,642.6 73.0,642.6 73.3,642.6 73.5,642.6 73.7,642.6 73.9,642.6 74.2,642.5 74.4,642.5 74.6,642.5 74.8,642.5 75.0,642.5 75.3,642.5 75.5,642.5 75.7,642.5 75.9,642.5 76.1,642.5 76.4,642.5 76.6,642.5 76.8,642.5 77.0,642.5 77.3,642.4 77.5,642.4 77.7,642.4 77.9,642.4 78.1,642.4 78.4,642.4 78.6,642.4 78.8,642.4 79.0,642.4 79.3,642.4 79.5,642.3 79.7,642.3 79.9,642.3 80.1,642.3 80.4,642.3 80.6,642.3 80.8,642.3 81.0,642.3 81.3,642.2 81.5,642.2 81.7,642.2 81.9,642.2 82.1,642.2 82.4,642.2 82.6,642.1 82.8,642.1 83.0,642.1 83.3,642.1 83.5,642.1 83.7,642.1 83.9,642.0 84.1,642.0 84.4,642.0 84.6,642.0 84.8,641.9 85.0,641.9 85.3,641.9 85.5,641.9 85.7,641.8 85.9,641.8 86.1,641.8 86.4,641.7 86.6,641.7 86.8,641.7 87.0,641.6 87.3,641.6 87.5,641.6 87.7,641.5 87.9,641.5 88.1,641.5 88.4,641.4 88.6,641.4 88.8,641.3 89.0,641.3 89.3,641.2 89.5,641.2 89.7,641.1 89.9,641.1 90.1,641.0 90.4,640.9 90.6,640.9 90.8,640.8 91.0,640.7 91.3,640.6 91.5,640.6 91.7,640.5 91.9,640.4 92.1,640.3 92.4,640.2 92.6,640.1 92.8,640.0 93.0,639.9 93.3,639.8 93.5,639.7 93.7,639.6 93.9,639.5 94.1,639.4 94.4,639.2 94.6,639.1 94.8,638.9 95.0,638.8 95.3,638.6 95.5,638.5 95.7,638.3 95.9,638.1 96.1,638.0 96.4,637.8 96.6,637.6 96.8,637.4 97.0,637.2 97.2,637.0 97.5,636.7 97.7,636.5 97.9,636.3 98.1,636.0 98.4,635.7 98.6,635.5 98.8,635.2 99.0,634.9 99.2,634.6 99.5,634.3 99.7,634.0 99.9,633.6 100.1,633.3 100.4,632.9 100.6,632.6 100.8,632.2 101.0,631.8 101.2,631.4 101.5,631.0 101.7,630.6 101.9,630.1 102.1,629.7 102.4,629.2 102.6,628.7 102.8,628.2 103.0,627.7 103.2,627.2 103.5,626.6 103.7,626.0 103.9,625.5 104.1,624.8 104.4,624.2 104.6,623.6 104.8,622.9 105.0,622.2 105.2,621.5 105.5,620.8 105.7,620.1 105.9,619.3 106.1,618.6 106.4,617.8 106.6,616.9 106.8,616.1 107.0,615.2 107.2,614.4 107.5,613.5 107.7,612.5 107.9,611.6 108.1,610.6 108.4,609.6 108.6,608.6 108.8,607.6 109.0,606.5 109.2,605.5 109.5,604.4 109.7,603.3 109.9,602.1 110.1,601.0 110.4,599.8 110.6,598.6 110.8,597.4 111.0,596.1 111.2,594.9 111.5,593.6 111.7,592.3 111.9,591.0 112.1,589.7 112.4,588.3 112.6,587.0 112.8,585.6 113.0,584.2 113.2,582.8 113.5,581.3 113.7,579.9 113.9,578.4 114.1,577.0 114.4,575.5 114.6,574.0 114.8,572.5 115.0,571.0 115.2,569.5 115.5,568.0 115.7,566.5 115.9,565.0 116.1,563.4 116.4,561.9 116.6,560.4 116.8,558.9 117.0,557.3 117.2,555.8 117.5,554.3 117.7,552.8 117.9,551.3 118.1,549.8 118.3,548.3 118.6,546.9 118.8,545.4 119.0,544.0 119.2,542.6 119.5,541.2 119.7,539.8 119.9,538.4 120.1,537.1 120.3,535.8 120.6,534.5 120.8,533.3 121.0,532.1 121.2,530.9 121.5,529.7 121.7,528.6 121.9,527.5 122.1,526.5 122.3,525.5 122.6,524.5 122.8,523.6 123.0,522.7 123.2,521.9 123.5,521.1 123.7,520.3 123.9,519.7 124.1,519.0 124.3,518.4 124.6,517.9 124.8,517.4 125.0,517.0 125.2,516.6 125.5,516.2 125.7,516.0 125.9,515.8 126.1,515.6 126.3,515.5 126.6,515.4 126.8,515.4 127.0,515.5 127.2,515.6 127.5,515.7 127.7,515.9 127.9,516.1 128.1,516.4 128.3,516.7 128.6,517.1 128.8,517.5 129.0,517.9 129.2,518.4 129.5,518.9 129.7,519.5 129.9,520.1 130.1,520.8 130.3,521.4 130.6,522.2 130.8,522.9 131.0,523.7 131.2,524.5 131.5,525.4 131.7,526.3 131.9,527.2 132.1,528.1 132.3,529.1 132.6,530.1 132.8,531.1 133.0,532.2 133.2,533.3 133.5,534.4 133.7,535.5 133.9,536.7 134.1,537.8 134.3,539.0 134.6,540.2 134.8,541.4 135.0,542.6 135.2,543.9 135.5,545.1 135.7,546.4 135.9,547.7 136.1,549.0 136.3,550.3 136.6,551.6 136.8,552.9 137.0,554.2 137.2,555.5 137.5,556.8 137.7,558.1 137.9,559.4 138.1,560.7 138.3,562.0 138.6,563.3 138.8,564.7 139.0,566.0 139.2,567.3 139.4,568.5 139.7,569.8 139.9,571.1 140.1,572.4 140.3,573.7 140.6,574.9 140.8,576.2 141.0,577.4 141.2,578.6 141.4,579.9 141.7,581.1 141.9,582.3 142.1,583.4 142.3,584.6 142.6,585.8 142.8,586.9 143.0,588.1 143.2,589.2 143.4,590.3 143.7,591.4 143.9,592.5 144.1,593.5 144.3,594.6 144.6,595.6 144.8,596.6 145.0,597.6 145.2,598.6 145.4,599.6 145.7,600.6 145.9,601.5 146.1,602.4 146.3,603.4 146.6,604.3 146.8,605.2 147.0,606.0 147.2,606.9 147.4,607.7 147.7,608.6 147.9,609.4 148.1,610.2 148.3,611.0 148.6,611.7 148.8,612.5 149.0,613.2 149.2,614.0 149.4,614.7 149.7,615.4 149.9,616.1 150.1,616.7 150.3,617.4 150.6,618.0 150.8,618.7 151.0,619.3 151.2,619.9 151.4,620.5 151.7,621.1 151.9,621.7 152.1,622.2 152.3,622.8 152.6,623.3 152.8,623.9 153.0,624.4 153.2,624.9 153.4,625.4 153.7,625.9 153.9,626.3 154.1,626.8 154.3,627.2 154.6,627.7 154.8,628.1 155.0,628.6 155.2,629.0 155.4,629.4 155.7,629.8 155.9,630.2 156.1,630.5 156.3,630.9 156.6,631.3 156.8,631.6 157.0,632.0 157.2,632.3 157.4,632.7 157.7,633.0 157.9,633.3 158.1,633.6 158.3,633.9 158.6,634.2 158.8,634.5 159.0,634.8 159.2,635.1 159.4,635.3 159.7,635.6 159.9,635.8 160.1,636.1 160.3,636.3 160.5,636.6 160.8,636.8 161.0,637.0 161.2,637.3 161.4,637.5 161.7,637.7 161.9,637.9 162.1,638.1 162.3,638.3 162.5,638.5 162.8,638.7 163.0,638.9 163.2,639.1 163.4,639.3 163.7,639.4 163.9,639.6 164.1,639.8 164.3,639.9 164.5,640.1 164.8,640.2 165.0,640.4 165.2,640.5 165.4,640.7 165.7,640.8 165.9,641.0 166.1,641.1 166.3,641.2 166.5,641.4 166.8,641.5 167.0,641.6 167.2,641.7 167.4,641.8 167.7,642.0 167.9,642.1 168.1,642.2 168.3,642.3 168.5,642.4 168.8,642.5 169.0,642.6 169.2,642.7 169.4,642.8 169.7,642.9 169.9,643.0 170.1,643.1 170.3,643.2 170.5,643.3 170.8,643.3 171.0,643.4 171.2,643.5 171.4,643.6 171.7,643.7 171.9,643.8 172.1,643.8 172.3,643.9 172.5,644.0 172.8,644.1 173.0,644.1 173.2,644.2 173.4,644.3 173.7,644.3 173.9,644.4 174.1,644.5 174.3,644.5 174.5,644.6 174.8,644.7 175.0,644.7 175.2,644.8 175.4,644.9 175.7,644.9 175.9,645.0 176.1,645.0 176.3,645.1 176.5,645.1 176.8,645.2 177.0,645.2 177.2,645.3 177.4,645.3 177.7,645.4 177.9,645.4 178.1,645.5 178.3,645.5 178.5,645.6 178.8,645.6 179.0,645.7 179.2,645.7 179.4,645.8 179.6,645.8 179.9,645.8 180.1,645.9 180.3,645.9 180.5,646.0 180.8,646.0 181.0,646.1 181.2,646.1 181.4,646.1 181.6,646.2 181.9,646.2 182.1,646.2 182.3,646.3 182.5,646.3 182.8,646.3 183.0,646.4 183.2,646.4 183.4,646.5 183.6,646.5 183.9,646.5 184.1,646.6 184.3,646.6 184.5,646.6 184.8,646.6 185.0,646.7 185.2,646.7 185.4,646.7 185.6,646.8 185.9,646.8 186.1,646.8 186.3,646.9 186.5,646.9 186.8,646.9 187.0,646.9 187.2,647.0 187.4,647.0 187.6,647.0 187.9,647.1 188.1,647.1 188.3,647.1 188.5,647.1 188.8,647.2 189.0,647.2 189.2,647.2 189.4,647.2 189.6,647.3 189.9,647.3 190.1,647.3 190.3,647.3 190.5,647.4 190.8,647.4 191.0,647.4 191.2,647.4 191.4,647.4 191.6,647.4 191.9,647.4 192.1,647.5 192.3,647.5 192.5,647.5 192.8,647.5 193.0,647.5 193.2,647.5 193.4,647.5 193.6,647.6 193.9,647.6 194.1,647.6 194.3,647.6 194.5,647.6 194.8,647.6 195.0,647.6 195.2,647.7 195.4,647.7 195.6,647.7 195.9,647.7 196.1,647.7 196.3,647.7 196.5,647.7 196.8,647.7 197.0,647.8 197.2,647.8 197.4,647.8 197.6,647.8 197.9,647.8 198.1,647.8 198.3,647.8 198.5,647.8 198.8,647.8 199.0,647.9 199.2,647.9 199.4,647.9 199.6,647.9 199.9,647.9 200.1,647.9 200.3,647.9 200.5,647.9 200.7,647.9 201.0,648.0 201.2,648.0 201.4,648.0 201.6,648.0 201.9,648.0 202.1,648.0 202.3,648.0 202.5,648.0 202.7,648.0 203.0,648.1 203.2,648.1 203.4,648.1 203.6,648.1 203.9,648.1 204.1,648.1 204.3,648.1 204.5,648.1 204.7,648.1 205.0,648.2 205.2,648.2 205.4,648.2 205.6,648.2 205.9,648.2 206.1,648.2 206.3,648.2 206.5,648.2 206.7,648.2 207.0,648.2 207.2,648.3 207.4,648.3 207.6,648.3 207.9,648.3 208.1,648.3 208.3,648.3 208.5,648.3 208.7,648.3 209.0,648.3 209.2,648.3 209.4,648.4 209.6,648.4 209.9,648.4 210.1,648.4 210.3,648.4"/>
<text x="43.60" y="659.10" text-anchor="end" style="font-size:13.00px">0</text>
<text x="43.60" y="618.95" text-anchor="end" style="font-size:13.00px">5</text>
<text x="43.60" y="578.80" text-anchor="end" style="font-size:13.00px">10</text>
<text x="43.60" y="538.65" text-anchor="end" style="font-size:13.00px">15</text>
<text x="43.60" y="498.50" text-anchor="end" style="font-size:13.00px">20</text>
<text x="43.60" y="458.35" text-anchor="end" style="font-size:13.00px">25</text>
<text x="43.60" y="418.20" text-anchor="end" style="font-size:13.00px">30</text>
<text x="43.60" y="378.05" text-anchor="end" style="font-size:13.00px">35</text>
<text x="55.05" y="672.40" text-anchor="middle" style="font-size:13.00px">-0.2</text>
<text x="140.38" y="672.40" text-anchor="middle" style="font-size:13.00px">0.3</text>
<text x="225.70" y="672.40" text-anchor="middle" style="font-size:13.00px">0.8</text>
<text x="133.60" y="697.00" text-anchor="middle" style="font-size:14.30px">Potential(V)</text>
<text transform="translate(17.10 513.60) rotate(-90)" text-anchor="middle" textLength="66.0" lengthAdjust="spacingAndGlyphs" style="font-size:14.00px">Current(μA)</text>
<text x="68.00" y="393.00" style="font-size:17.00px;font-weight:bold">C</text>
<path d="M188.7 430.95H217.6" stroke="#00b0f0" stroke-width="2.2"/>
<text x="220.00" y="434.00" style="font-size:11.00px;font-family:'Liberation Sans', sans-serif;fill:#595959">Sample 1</text>
<path d="M188.7 461.00H217.6" stroke="#ffc000" stroke-width="2.2"/>
<text x="220.00" y="464.05" style="font-size:11.00px;font-family:'Liberation Sans', sans-serif;fill:#595959">Sample 2</text>
<path d="M188.7 491.05H217.6" stroke="#66ffff" stroke-width="2.2"/>
<text x="220.00" y="494.10" style="font-size:11.00px;font-family:'Liberation Sans', sans-serif;fill:#595959">Sample 3</text>
<path d="M188.7 521.10H217.6" stroke="#ffff00" stroke-width="2.2"/>
<text x="220.00" y="524.15" style="font-size:11.00px;font-family:'Liberation Sans', sans-serif;fill:#595959">Sample 4</text>
<path d="M188.7 551.15H217.6" stroke="#ff66cc" stroke-width="2.2"/>
<text x="220.00" y="554.20" style="font-size:11.00px;font-family:'Liberation Sans', sans-serif;fill:#595959">Sample 5</text>
<path d="M188.7 581.20H217.6" stroke="#00ff00" stroke-width="2.2"/>
<text x="220.00" y="584.25" style="font-size:11.00px;font-family:'Liberation Sans', sans-serif;fill:#595959">Sample 6</text>
<path d="M188.7 611.25H217.6" stroke="#cc3300" stroke-width="2.2"/>
<text x="220.00" y="614.30" style="font-size:11.00px;font-family:'Liberation Sans', sans-serif;fill:#595959">Sample 7</text>
<rect x="380.25" y="488.49" width="12.5" height="164.41" fill="#00b0f0"/>
<path d="M386.50 486.44V490.54M383.00 486.44h7M383.00 490.54h7" stroke="#595959" stroke-width="1.2"/>
<text transform="translate(391.30 669.70) rotate(-45)" text-anchor="end" style="font-size:13.00px">Sample-1</text>
<rect x="420.25" y="473.25" width="12.5" height="179.65" fill="#ff9900"/>
<path d="M426.50 458.75V487.75M423.00 458.75h7M423.00 487.75h7" stroke="#595959" stroke-width="1.2"/>
<text transform="translate(431.30 669.70) rotate(-45)" text-anchor="end" style="font-size:13.00px">Sample-2</text>
<rect x="460.25" y="422.73" width="12.5" height="230.17" fill="#66ffff"/>
<path d="M466.50 419.73V425.73M463.00 419.73h7M463.00 425.73h7" stroke="#595959" stroke-width="1.2"/>
<text transform="translate(471.30 669.70) rotate(-45)" text-anchor="end" style="font-size:13.00px">Sample-3</text>
<rect x="500.25" y="452.72" width="12.5" height="200.18" fill="#ffff00"/>
<path d="M506.50 443.37V462.07M503.00 443.37h7M503.00 462.07h7" stroke="#595959" stroke-width="1.2"/>
<text transform="translate(511.30 669.70) rotate(-45)" text-anchor="end" style="font-size:13.00px">Sample-4</text>
<rect x="540.25" y="425.53" width="12.5" height="227.37" fill="#ff66cc"/>
<path d="M546.50 414.03V437.03M543.00 414.03h7M543.00 437.03h7" stroke="#595959" stroke-width="1.2"/>
<text transform="translate(551.30 669.70) rotate(-45)" text-anchor="end" style="font-size:13.00px">Sample-5</text>
<rect x="580.25" y="495.23" width="12.5" height="157.67" fill="#00ff00"/>
<path d="M586.50 493.38V497.08M583.00 493.38h7M583.00 497.08h7" stroke="#595959" stroke-width="1.2"/>
<text transform="translate(591.30 669.70) rotate(-45)" text-anchor="end" style="font-size:13.00px">Sample-6</text>
<rect x="620.25" y="519.21" width="12.5" height="133.69" fill="#cc3300"/>
<path d="M626.50 514.51V523.91M623.00 514.51h7M623.00 523.91h7" stroke="#595959" stroke-width="1.2"/>
<text transform="translate(631.30 669.70) rotate(-45)" text-anchor="end" style="font-size:13.00px">Sample-7</text>
<path d="M366.50 372.20V652.90" fill="none" stroke="#404040" stroke-width="1.1"/>
<path d="M362.40 612.80H366.50M362.40 572.70H366.50M362.40 532.60H366.50M362.40 492.50H366.50M362.40 452.40H366.50M362.40 412.30H366.50M362.40 372.20H366.50" stroke="#404040" stroke-width="1.1"/>
<path d="M362.40 652.90H646" stroke="#5c5c5c" stroke-width="1.5"/>
<text x="355.00" y="658.90" text-anchor="end" style="font-size:13.00px">0</text>
<text x="355.00" y="618.80" text-anchor="end" style="font-size:13.00px">5</text>
<text x="355.00" y="578.70" text-anchor="end" style="font-size:13.00px">10</text>
<text x="355.00" y="538.60" text-anchor="end" style="font-size:13.00px">15</text>
<text x="355.00" y="498.50" text-anchor="end" style="font-size:13.00px">20</text>
<text x="355.00" y="458.40" text-anchor="end" style="font-size:13.00px">25</text>
<text x="355.00" y="418.30" text-anchor="end" style="font-size:13.00px">30</text>
<text x="355.00" y="378.20" text-anchor="end" style="font-size:13.00px">35</text>
<text transform="translate(322.60 512.80) rotate(-90)" text-anchor="middle" style="font-size:14.30px">Average peak height(μA)</text>
</svg>
</body></html>
